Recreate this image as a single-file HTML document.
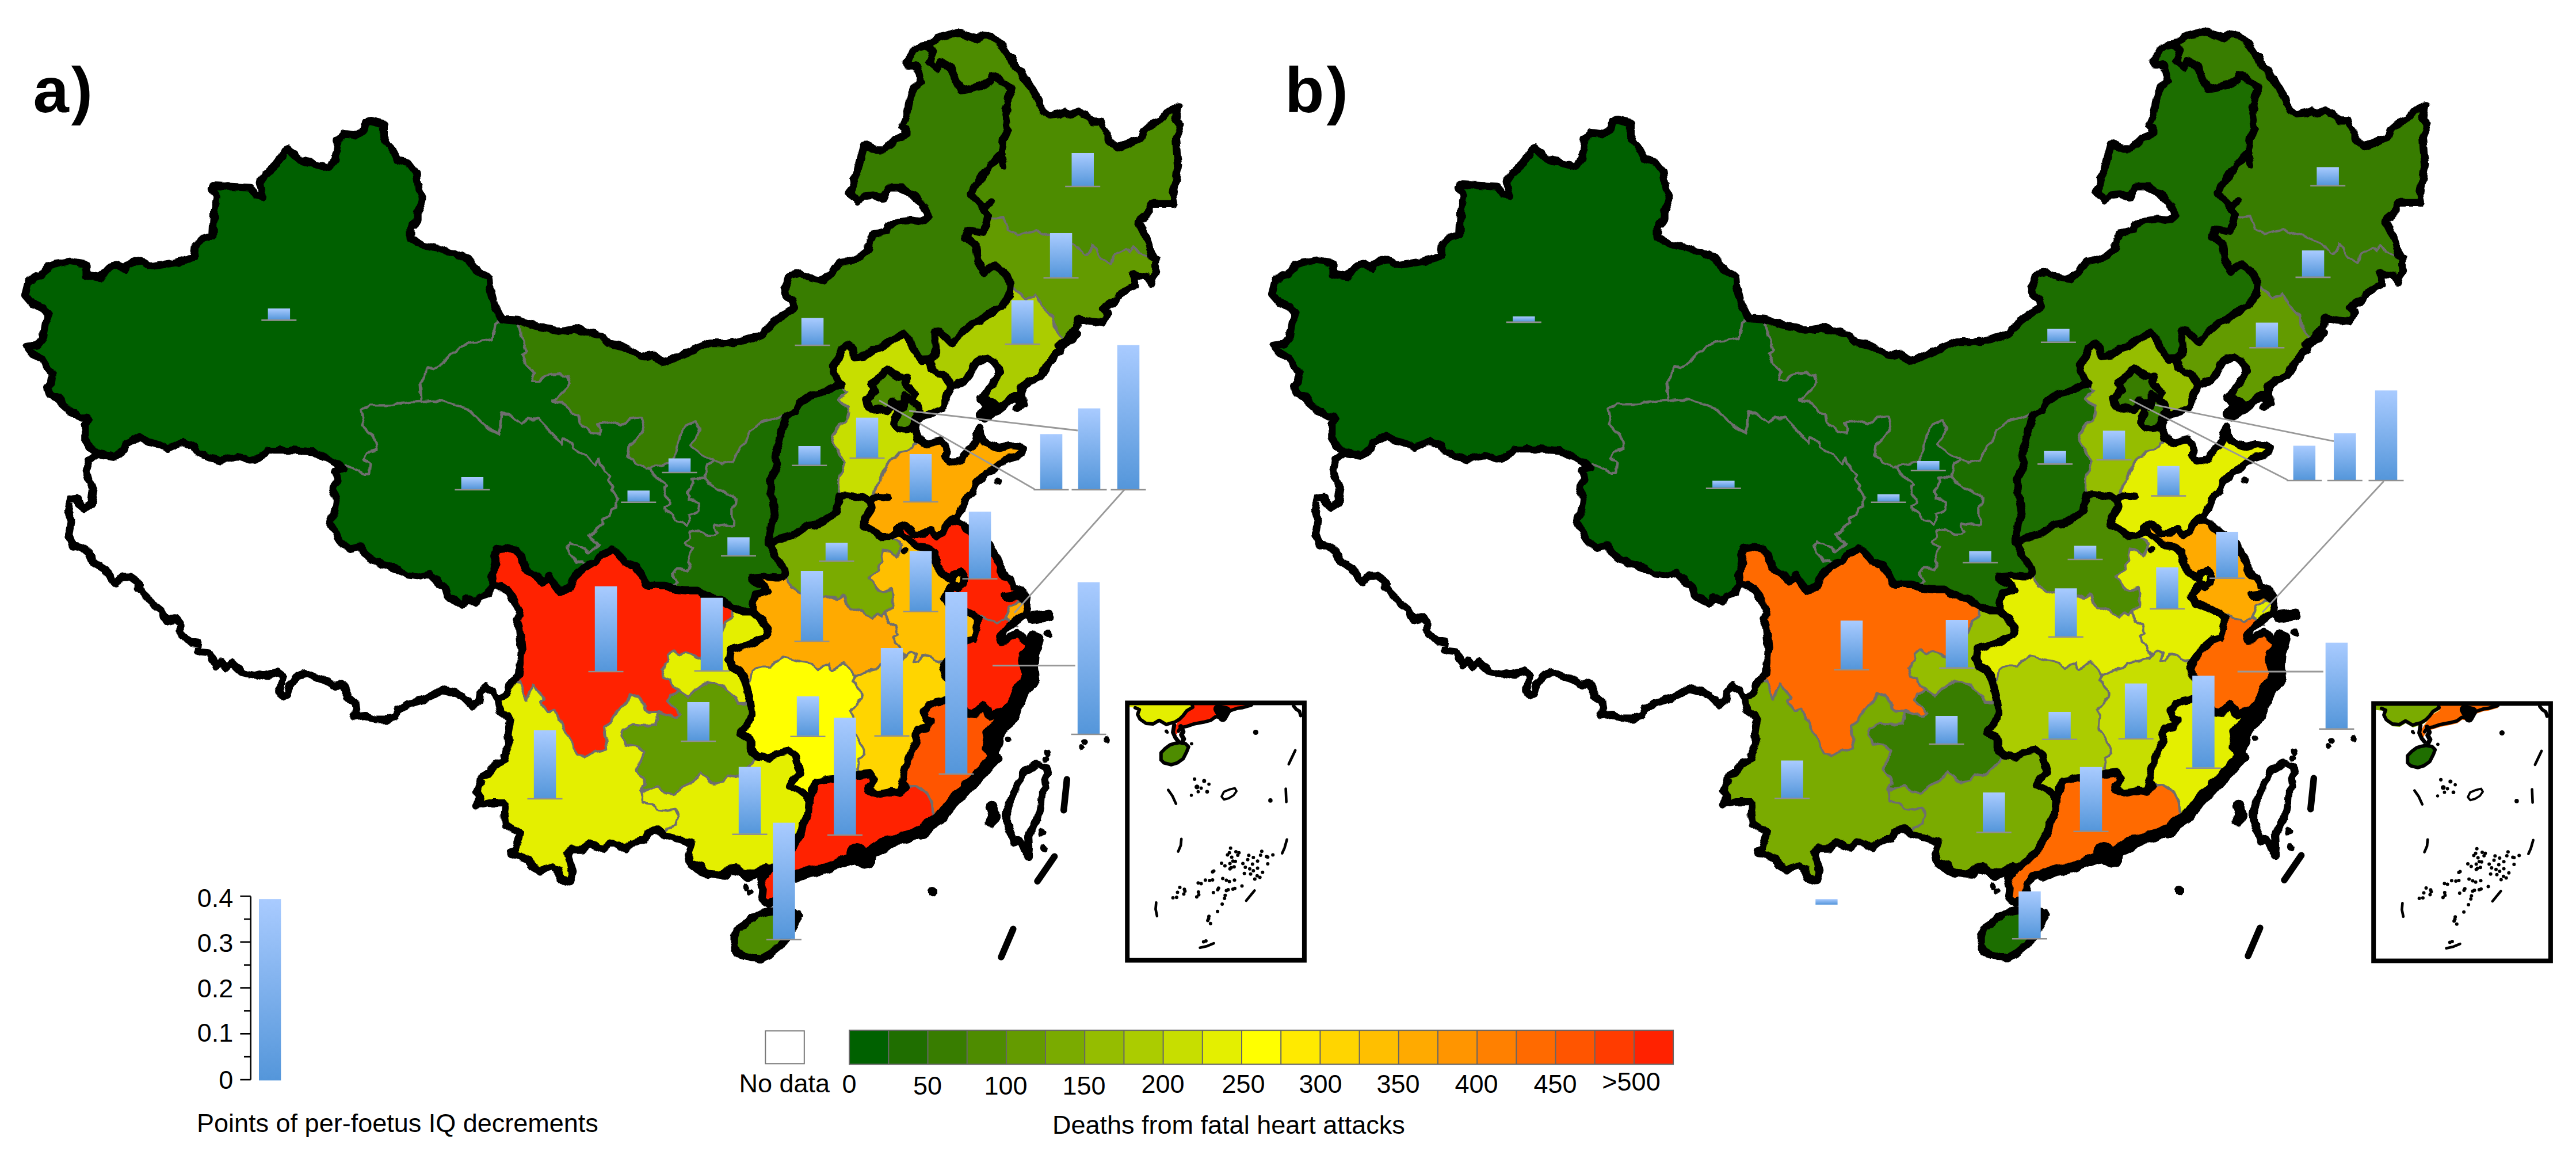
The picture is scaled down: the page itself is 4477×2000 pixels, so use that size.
<!DOCTYPE html>
<html lang="en"><head><meta charset="utf-8"><title>Figure: per-foetus IQ decrements and deaths from fatal heart attacks by province</title>
<style>html,body{margin:0;padding:0;background:#fff}body{width:4477px;height:2000px;overflow:hidden}svg{display:block}text{font-family:"Liberation Sans",Arial,Helvetica,sans-serif;fill:#000}.lb{font-size:45px}.t{font-weight:bold;font-size:112px}.gl{fill:none;stroke:#6E6E6E;stroke-width:4.2;stroke-linejoin:round;stroke-linecap:round}.tl{fill:none;stroke:#000;stroke-width:13.2;stroke-linejoin:round;stroke-linecap:round}.ld{fill:none;stroke:#999;stroke-width:2.8}.bl{stroke:#909090;stroke-width:2.6}.bar{fill:url(#bg)}</style></head><body>
<svg width="4477" height="2000" viewBox="0 0 4477 2000">
<defs><filter id="rough" filterUnits="userSpaceOnUse" x="0" y="0" width="2300" height="1720"><feTurbulence type="fractalNoise" baseFrequency="0.075" numOctaves="1" seed="7" result="n"/><feDisplacementMap in="SourceGraphic" in2="n" scale="9" xChannelSelector="R" yChannelSelector="G"/></filter><linearGradient id="bg" x1="0" y1="0" x2="0" y2="1"><stop offset="0" stop-color="#A9CBFF"/><stop offset="1" stop-color="#5496DA"/></linearGradient>
<path id="p-xj" d="M665 215 647 211 640 211 636 214 634 225 631 228 618 235 598 234 588 243 587 246 585 271 583 279 571 291 555 288 523 279 505 263 501 261 498 262 483 282 460 306 453 316 456 331 455 340 449 341 444 339 435 327 371 324 369 326 369 330 377 340 377 348 373 366 371 407 368 412 353 415 340 428 338 446 333 450 304 458 270 463 261 463 247 453 243 453 223 459 218 466 213 466 204 461 199 461 192 463 174 483 152 479 150 477 150 463 148 459 127 455 118 455 87 461 83 464 70 480 53 486 50 489 44 511 45 514 58 528 74 534 85 548 78 565 76 584 74 590 66 600 53 602 50 605 58 615 72 622 76 626 80 636 91 651 90 664 84 673 84 677 87 685 89 687 101 690 104 693 108 702 125 717 144 726 148 726 152 729 152 733 149 738 149 764 156 776 168 788 192 792 201 792 215 780 224 768 241 759 258 767 278 773 290 779 298 777 316 768 320 767 324 768 335 774 339 778 344 787 366 796 379 799 387 799 410 793 416 793 432 799 439 799 453 795 465 783 520 783 521 784 545 785 581 802 591 809 594 814 597 814 603 809 622 816 634 824 638 824 641 821 643 806 640 802 637 801 633 797 635 790 639 786 656 783 656 778 654 768 651 763 630 741 632 735 632 729 628 713 642 704 679 704 708 699 720 699 733 697 730 664 739 653 741 639 756 640 763 636 789 611 812 596 839 593 856 589 858 583 860 565 871 552 858 527 852 505 851 490 849 483 831 473 811 449 791 441 765 433 736 427 720 418 713 412 713 396 725 384 726 369 734 350 734 346 728 332 725 307 723 301 708 283 695 280 689 275 683 261 667 240 667 219Z"/>
<path id="p-qh" d="M629 713 633 729 633 735 631 741 648 758 654 766 656 772 657 783 639 787 636 790 634 797 640 801 644 806 642 821 640 824 634 825 622 817 603 810 597 815 594 815 591 818 585 820 587 836 579 847 579 852 585 867 585 875 581 892 573 907 584 924 591 940 608 953 613 953 625 950 628 952 639 966 651 975 691 988 708 999 730 1002 748 998 774 1021 778 1035 781 1038 791 1042 803 1050 805 1049 807 1043 810 1040 815 1041 823 1046 827 1046 836 1036 847 1033 849 1031 854 1021 857 1018 854 997 862 982 862 976 859 968 859 963 862 956 866 953 881 952 897 957 907 966 912 985 915 990 931 1000 942 1011 946 1010 952 1004 955 1004 962 1012 968 1022 974 1027 989 1021 993 1015 997 1003 1018 984 1017 980 1014 977 1002 978 996 968 990 962 985 951 992 943 1013 951 1023 959 1036 951 1039 947 1024 932 1030 928 1033 923 1046 910 1047 902 1060 896 1062 888 1070 880 1069 873 1074 868 1073 864 1063 851 1064 844 1056 833 1059 825 1042 807 1042 804 1040 801 1034 807 1019 793 999 782 996 778 996 775 985 766 979 764 978 768 976 770 957 753 952 746 935 729 916 729 907 737 888 723 873 718 871 726 869 748 866 754 853 748 840 738 814 712 801 706 781 700 758 697 746 697 720 700 708 700 679 705 642 705Z"/>
<path id="p-gs" d="M741 640 740 653 731 664 734 697 745 697 746 696 767 697 781 699 801 705 814 711 840 737 853 747 866 753 868 748 871 719 873 717 888 722 907 736 916 728 935 728 953 746 958 753 976 769 979 763 985 765 997 775 997 778 999 781 1019 792 1034 806 1040 800 1043 804 1043 807 1060 825 1057 833 1065 844 1064 851 1075 866 1075 868 1070 873 1071 880 1063 888 1061 896 1057 899 1048 902 1047 910 1034 923 1031 928 1025 932 1040 947 1036 952 1023 960 1013 952 992 944 988 948 986 953 1002 977 1014 976 1018 980 1019 983 1023 982 1035 976 1049 962 1062 955 1067 955 1088 978 1102 983 1108 989 1127 1016 1129 1017 1159 1017 1163 1020 1169 1021 1176 1012 1176 1009 1170 1003 1169 996 1176 989 1197 990 1199 988 1199 985 1195 977 1195 973 1199 961 1204 954 1198 951 1191 944 1199 935 1197 927 1198 925 1203 921 1211 921 1218 923 1227 930 1238 930 1246 926 1241 918 1243 913 1252 915 1259 913 1274 912 1276 905 1271 896 1271 886 1278 877 1279 870 1278 866 1272 861 1251 852 1231 840 1225 832 1223 833 1204 832 1203 833 1204 835 1203 846 1195 855 1198 861 1198 867 1211 872 1216 878 1215 889 1208 893 1197 896 1198 905 1194 914 1192 914 1183 906 1178 906 1173 904 1167 893 1159 890 1156 885 1156 882 1162 877 1163 870 1156 861 1153 850 1157 846 1154 839 1143 832 1131 820 1129 813 1125 814 1105 805 1091 793 1093 774 1111 759 1119 743 1119 738 1115 727 1095 729 1080 739 1076 739 1063 734 1042 737 1041 738 1046 745 1044 751 1039 755 1032 754 1009 739 1006 735 1003 722 998 722 993 720 988 710 979 701 966 698 963 695 990 666 990 663 986 654 975 651 954 652 947 654 938 663 928 664 925 662 927 647 914 634 907 618 914 611 914 608 901 567 900 558 880 556 872 553 861 565 859 583 856 590 839 594 812 597 789 612 763 637 756 641Z"/>
<path id="p-im" d="M1757 153 1731 134 1726 132 1724 137 1719 142 1708 149 1672 157 1668 154 1657 132 1654 122 1650 116 1639 111 1635 111 1627 119 1616 110 1616 104 1621 89 1613 80 1606 80 1594 83 1577 106 1577 112 1584 114 1591 114 1595 117 1599 127 1601 139 1600 142 1589 153 1585 161 1578 196 1569 216 1569 220 1574 224 1575 227 1574 235 1558 241 1538 261 1535 262 1523 261 1506 254 1502 255 1490 300 1484 312 1485 325 1479 332 1478 336 1490 348 1494 347 1500 341 1511 339 1519 339 1530 344 1535 344 1541 329 1544 326 1568 326 1592 343 1608 361 1614 374 1614 378 1612 380 1602 385 1591 385 1590 384 1565 385 1546 392 1538 403 1521 407 1512 419 1509 436 1500 444 1480 454 1459 458 1448 473 1431 487 1423 487 1406 484 1392 475 1374 478 1371 482 1364 502 1364 506 1366 513 1378 523 1380 529 1380 535 1346 559 1326 581 1304 590 1274 597 1233 597 1216 603 1154 630 1150 629 1136 618 1119 620 1085 603 1061 599 1044 584 1004 573 996 573 975 577 932 567 907 559 902 559 901 560 902 567 915 608 915 611 908 618 915 634 928 647 926 662 928 663 938 662 947 653 954 651 975 650 986 653 989 657 991 666 964 695 966 697 979 700 989 710 993 719 998 721 1003 721 1005 723 1007 735 1009 738 1034 754 1041 753 1045 747 1045 745 1040 738 1042 736 1063 733 1076 738 1080 738 1095 728 1115 726 1120 738 1120 743 1112 759 1094 774 1092 793 1105 804 1126 813 1131 811 1148 809 1164 804 1174 792 1177 773 1182 755 1190 740 1192 738 1207 733 1211 735 1215 744 1215 748 1210 761 1202 772 1202 775 1216 786 1237 797 1239 800 1245 801 1253 806 1258 806 1273 802 1275 800 1283 784 1296 767 1303 751 1325 732 1343 728 1359 722 1365 724 1381 716 1384 713 1390 699 1403 689 1434 680 1447 672 1458 669 1459 667 1449 648 1448 636 1457 623 1462 608 1469 602 1476 601 1483 607 1486 620 1501 619 1519 607 1534 603 1547 592 1569 581 1573 581 1582 591 1593 615 1599 624 1603 626 1616 625 1624 619 1627 615 1627 601 1624 590 1624 578 1625 577 1636 578 1653 596 1655 596 1677 573 1692 560 1705 556 1718 545 1737 536 1754 514 1757 495 1748 476 1732 463 1727 463 1714 472 1710 473 1707 470 1700 453 1696 426 1694 423 1682 416 1679 413 1679 409 1682 402 1685 400 1708 403 1713 391 1716 379 1716 373 1708 360 1688 338 1688 335 1709 303 1740 266 1743 240 1751 227 1748 195 1750 187 1751 173 1758 156Z"/>
<path id="p-hlj" d="M1614 78 1614 80 1622 89 1617 104 1617 110 1627 118 1635 110 1639 110 1650 115 1653 118 1658 132 1670 155 1675 156 1708 148 1719 141 1723 137 1726 131 1731 133 1758 153 1759 156 1752 173 1751 187 1749 195 1752 227 1744 240 1741 266 1710 303 1689 335 1689 338 1709 360 1717 373 1717 377 1722 379 1730 379 1743 376 1752 399 1766 408 1770 408 1788 402 1803 400 1813 408 1826 407 1872 426 1887 442 1893 439 1897 429 1901 426 1905 431 1913 447 1928 457 1931 456 1938 442 1953 433 1963 436 1970 429 1973 431 1979 441 1995 445 2002 445 2002 441 1996 420 1979 388 1979 384 1992 373 1998 357 2001 354 2035 354 2040 352 2039 335 2044 304 2048 288 2043 240 2051 222 2049 216 2043 208 2046 195 2045 190 2038 191 2028 197 2018 209 2005 214 1999 218 1987 229 1984 240 1982 242 1942 257 1926 243 1925 232 1916 221 1913 212 1900 211 1887 200 1878 195 1874 194 1862 200 1850 194 1837 199 1822 200 1810 188 1807 177 1800 164 1783 141 1775 126 1764 116 1758 101 1750 94 1738 75 1727 65 1714 62 1708 62 1701 67 1697 67 1684 64 1666 57 1661 57 1644 63 1631 65Z"/>
<path id="p-jl" d="M1680 409 1680 413 1694 422 1697 426 1700 449 1708 470 1712 472 1727 462 1732 462 1749 476 1758 495 1757 500 1760 500 1766 503 1783 519 1801 512 1816 539 1831 551 1833 566 1844 584 1852 593 1854 593 1866 581 1866 577 1870 571 1872 560 1875 555 1883 555 1892 558 1905 560 1917 560 1925 547 1924 544 1919 539 1919 537 1924 532 1936 525 1953 506 1970 498 1973 495 1971 484 1972 477 1990 479 2000 489 2004 484 2009 470 2008 450 2003 446 1995 446 1979 442 1976 439 1972 431 1970 430 1963 437 1953 434 1937 444 1932 456 1928 458 1912 447 1901 427 1898 429 1894 439 1887 443 1874 428 1826 408 1813 409 1803 401 1788 403 1770 409 1766 409 1751 399 1743 377 1730 380 1722 380 1717 378 1711 400 1708 404 1685 401 1683 402Z"/>
<path id="p-ln" d="M1801 513 1783 520 1763 502 1757 501 1754 516 1737 537 1718 546 1705 557 1692 561 1677 574 1655 597 1653 597 1636 579 1625 578 1625 590 1628 601 1628 615 1624 620 1616 626 1618 632 1618 639 1624 644 1641 651 1655 672 1669 665 1676 663 1685 652 1694 632 1697 629 1716 621 1724 625 1735 638 1737 643 1737 648 1727 666 1717 678 1708 693 1710 699 1717 705 1715 710 1705 719 1707 723 1712 727 1723 719 1734 715 1745 703 1761 690 1766 688 1775 688 1777 683 1777 672 1787 664 1805 657 1808 654 1811 647 1824 628 1842 608 1845 600 1852 594 1843 584 1833 568 1830 551 1815 539Z"/>
<path id="p-hb" d="M1573 582 1569 582 1547 593 1534 604 1519 608 1504 619 1496 621 1486 621 1484 618 1482 607 1476 602 1471 602 1463 608 1458 623 1449 636 1450 648 1459 666 1463 669 1467 677 1473 681 1472 684 1467 689 1459 694 1459 697 1464 702 1472 706 1475 709 1478 717 1475 727 1471 734 1460 739 1454 746 1448 759 1447 770 1450 777 1458 784 1468 802 1468 806 1460 828 1458 852 1460 855 1461 861 1478 861 1501 865 1512 869 1515 868 1519 864 1518 863 1519 853 1526 842 1533 822 1545 801 1555 795 1563 785 1576 782 1585 778 1587 772 1597 766 1592 754 1591 747 1588 742 1586 742 1582 746 1572 748 1563 746 1554 739 1555 727 1560 720 1559 711 1561 706 1557 703 1552 701 1550 707 1542 715 1531 711 1517 713 1506 703 1505 697 1506 694 1515 686 1519 679 1517 674 1514 671 1514 668 1523 659 1531 655 1539 643 1541 642 1546 643 1560 654 1566 656 1573 656 1575 658 1574 667 1584 675 1590 684 1589 689 1584 694 1594 703 1599 710 1600 713 1598 716 1602 720 1603 723 1608 720 1612 720 1628 715 1639 708 1642 704 1642 694 1645 685 1652 677 1654 672 1641 652 1624 645 1617 639 1617 632 1615 626 1603 627 1598 624 1592 615 1581 591Z"/>
<path id="p-bj" d="M1574 658 1562 656 1555 652 1546 644 1543 643 1539 644 1535 652 1531 656 1523 660 1515 668 1515 671 1518 674 1520 679 1516 686 1507 694 1506 696 1507 703 1517 712 1531 710 1542 714 1549 707 1550 702 1552 700 1557 702 1560 705 1563 705 1568 703 1575 692 1584 693 1588 689 1589 684 1583 675 1573 667Z"/>
<path id="p-tj" d="M1575 693 1569 703 1562 706 1560 711 1561 720 1556 727 1555 739 1563 745 1572 747 1582 745 1587 741 1594 728 1594 719 1599 713 1593 703 1583 694Z"/>
<path id="p-sx" d="M1460 668 1456 671 1447 673 1434 681 1403 690 1391 699 1385 713 1381 717 1365 725 1348 790 1348 795 1352 804 1352 808 1348 819 1340 833 1340 850 1344 866 1348 892 1342 908 1338 928 1338 941 1339 942 1343 942 1361 933 1377 930 1393 921 1403 913 1414 912 1428 907 1447 895 1454 888 1457 868 1460 861 1460 858 1457 852 1459 828 1467 806 1467 802 1457 784 1449 777 1446 770 1447 759 1453 746 1460 738 1470 734 1474 727 1477 717 1474 709 1464 703 1458 697 1458 694 1467 688 1471 684 1472 681 1466 677 1464 672Z"/>
<path id="p-sa" d="M1364 725 1359 723 1343 729 1325 733 1304 751 1297 767 1284 784 1276 800 1273 803 1258 807 1253 807 1245 802 1239 801 1230 807 1227 817 1227 829 1226 830 1230 838 1251 851 1272 860 1279 866 1280 869 1279 877 1272 886 1272 896 1277 905 1276 910 1272 914 1259 914 1252 916 1243 914 1242 918 1247 926 1238 931 1227 931 1218 924 1211 922 1203 922 1199 925 1198 927 1200 935 1192 944 1198 950 1205 954 1200 961 1196 973 1196 977 1200 985 1200 988 1197 991 1176 990 1170 996 1171 1003 1177 1009 1177 1012 1171 1019 1170 1022 1174 1024 1189 1026 1214 1026 1229 1036 1253 1041 1273 1056 1276 1056 1294 1063 1304 1063 1308 1062 1309 1047 1312 1035 1315 1032 1330 1029 1332 1027 1332 1024 1328 1019 1313 1012 1309 1007 1314 1003 1321 1002 1356 1004 1362 1000 1363 998 1362 988 1352 974 1339 950 1337 941 1337 928 1341 908 1347 892 1343 866 1339 850 1339 833 1347 819 1351 808 1351 804 1347 795 1347 790Z"/>
<path id="p-nx" d="M1209 734 1191 740 1183 755 1178 773 1175 792 1170 799 1162 806 1148 810 1130 813 1132 820 1143 831 1154 838 1158 844 1154 852 1157 861 1164 870 1163 877 1157 882 1158 888 1167 892 1173 903 1185 906 1192 913 1194 913 1197 905 1196 896 1198 894 1213 890 1215 887 1214 876 1211 873 1198 868 1197 861 1194 857 1194 855 1202 846 1203 843 1202 833 1204 831 1220 831 1221 832 1225 831 1226 817 1229 807 1238 801 1237 798 1216 787 1201 775 1201 772 1209 761 1214 748 1214 744Z"/>
<path id="p-sd" d="M1776 781 1771 776 1760 774 1753 774 1741 778 1734 778 1724 773 1715 771 1709 766 1706 756 1702 752 1698 757 1698 762 1694 774 1674 792 1672 798 1668 802 1656 805 1653 804 1644 795 1646 785 1643 776 1637 767 1633 766 1618 771 1611 771 1604 769 1598 765 1595 769 1588 772 1585 779 1576 783 1563 786 1555 796 1546 801 1543 808 1536 818 1528 840 1519 856 1520 864 1513 870 1515 875 1515 884 1503 907 1502 913 1509 916 1531 931 1536 933 1550 932 1559 925 1559 918 1569 913 1573 913 1580 917 1585 922 1586 925 1590 928 1599 928 1612 923 1618 923 1625 931 1628 931 1634 928 1638 924 1644 913 1652 904 1658 905 1660 904 1672 885 1677 868 1690 855 1695 842 1706 831 1711 823 1714 820 1721 818 1728 814 1745 800 1771 791 1774 788Z"/>
<path id="p-hn" d="M1339 943 1339 947 1353 974 1363 988 1364 991 1363 1000 1368 1004 1374 1019 1386 1027 1410 1035 1430 1039 1448 1037 1455 1040 1459 1040 1467 1036 1470 1041 1472 1049 1478 1058 1489 1059 1499 1062 1505 1070 1513 1073 1516 1073 1524 1067 1533 1071 1540 1060 1551 1054 1552 1038 1550 1026 1546 1026 1537 1030 1534 1030 1521 1021 1517 1011 1512 1004 1512 1001 1524 991 1526 983 1534 976 1533 971 1534 959 1536 957 1548 958 1553 962 1556 967 1558 967 1565 954 1566 946 1553 938 1550 933 1546 934 1533 933 1519 923 1501 913 1502 907 1514 884 1514 875 1511 869 1478 862 1460 862 1455 888 1447 896 1421 911 1403 914 1393 922 1377 931 1361 934 1343 943Z"/>
<path id="p-js" d="M1560 918 1560 925 1566 926 1576 936 1598 950 1612 952 1624 959 1627 962 1629 971 1627 980 1638 996 1645 1002 1652 1005 1660 995 1668 993 1671 994 1676 1001 1675 1014 1667 1021 1664 1021 1661 1018 1658 1018 1653 1023 1643 1038 1644 1042 1651 1050 1670 1057 1689 1066 1696 1071 1705 1070 1714 1076 1727 1078 1732 1083 1734 1083 1740 1077 1748 1074 1752 1064 1753 1056 1755 1053 1769 1046 1784 1045 1783 1036 1776 1026 1763 1021 1759 1016 1757 1008 1745 1001 1741 997 1739 984 1722 950 1704 933 1681 921 1672 910 1666 909 1657 905 1652 905 1645 913 1639 924 1634 929 1628 932 1625 932 1618 924 1612 924 1599 929 1590 929 1585 925 1584 922 1580 918 1573 914 1569 914Z"/>
<path id="p-ah" d="M1559 926 1553 930 1551 934 1553 937 1564 943 1567 946 1566 954 1560 966 1556 968 1550 960 1536 958 1534 963 1535 976 1527 983 1525 991 1513 1001 1513 1004 1518 1011 1522 1021 1534 1029 1537 1029 1546 1025 1551 1026 1553 1038 1553 1052 1550 1056 1540 1061 1537 1066 1540 1069 1543 1079 1554 1086 1559 1092 1561 1102 1553 1108 1560 1121 1572 1138 1575 1139 1583 1133 1590 1135 1592 1137 1590 1150 1592 1151 1596 1150 1599 1147 1605 1137 1615 1139 1624 1148 1632 1150 1635 1149 1644 1150 1664 1126 1681 1112 1692 1109 1698 1090 1698 1084 1700 1077 1698 1072 1670 1058 1651 1051 1642 1040 1645 1033 1658 1017 1661 1017 1664 1020 1667 1020 1674 1014 1675 1001 1671 995 1668 994 1660 996 1652 1006 1648 1005 1637 996 1627 982 1626 977 1628 971 1626 962 1612 953 1598 951 1576 937 1566 927Z"/>
<path id="p-hub" d="M1268 1148 1271 1156 1275 1160 1285 1165 1289 1169 1297 1186 1299 1187 1303 1182 1306 1168 1308 1166 1321 1159 1340 1158 1350 1148 1360 1141 1374 1144 1391 1150 1412 1153 1422 1162 1439 1154 1447 1164 1457 1159 1465 1151 1468 1151 1477 1164 1488 1175 1505 1166 1521 1163 1532 1153 1551 1150 1562 1145 1569 1144 1573 1140 1559 1121 1552 1108 1560 1102 1558 1092 1554 1087 1542 1079 1539 1069 1537 1067 1533 1072 1524 1068 1516 1074 1513 1074 1505 1071 1499 1063 1489 1060 1478 1059 1472 1051 1467 1037 1459 1041 1455 1041 1448 1038 1430 1040 1410 1036 1390 1030 1373 1019 1367 1004 1364 1001 1362 1001 1356 1005 1321 1003 1314 1004 1310 1007 1313 1011 1328 1018 1333 1024 1333 1027 1330 1030 1315 1033 1313 1035 1310 1047 1309 1062 1332 1086 1335 1091 1335 1094 1331 1106 1328 1109 1313 1116 1293 1122 1290 1124 1272 1128 1270 1130Z"/>
<path id="p-sc" d="M863 956 860 963 860 968 863 976 863 982 855 997 857 1015 858 1017 870 1019 883 1026 887 1030 891 1041 904 1066 903 1070 899 1075 899 1079 903 1089 904 1107 908 1135 904 1157 903 1172 895 1181 905 1186 911 1206 915 1212 918 1208 923 1194 926 1191 946 1212 946 1214 940 1221 952 1236 961 1233 965 1235 973 1250 981 1271 990 1280 995 1295 1004 1312 1016 1315 1036 1306 1053 1302 1054 1300 1052 1291 1050 1263 1061 1254 1072 1235 1091 1220 1094 1210 1097 1207 1108 1210 1120 1223 1123 1233 1131 1237 1143 1237 1153 1241 1170 1245 1176 1245 1181 1241 1161 1220 1164 1208 1166 1206 1178 1203 1179 1200 1169 1192 1164 1180 1157 1178 1153 1175 1150 1163 1162 1151 1161 1137 1168 1131 1171 1130 1182 1136 1193 1135 1206 1139 1218 1145 1244 1118 1256 1095 1260 1081 1273 1072 1272 1067 1273 1057 1270 1054 1251 1041 1229 1037 1214 1027 1179 1026 1163 1021 1159 1018 1129 1018 1123 1013 1107 989 1102 984 1088 979 1067 956 1062 956 1049 963 1035 977 1019 984 998 1003 994 1015 989 1022 974 1028 967 1022 955 1005 952 1005 946 1011 942 1012 931 1001 915 991 912 988 906 966 897 958 881 953 866 954Z"/>
<path id="p-cq" d="M1309 1063 1294 1064 1274 1057 1273 1058 1274 1072 1261 1081 1257 1095 1245 1118 1218 1146 1193 1136 1182 1137 1171 1131 1168 1132 1162 1137 1163 1151 1151 1163 1154 1175 1164 1179 1167 1183 1170 1192 1176 1196 1180 1201 1186 1203 1195 1210 1216 1193 1229 1185 1235 1185 1245 1187 1256 1192 1267 1203 1279 1211 1283 1223 1294 1224 1299 1220 1301 1220 1303 1215 1298 1196 1298 1188 1288 1169 1285 1166 1275 1161 1270 1156 1267 1148 1267 1142 1269 1130 1272 1127 1290 1123 1293 1121 1313 1115 1330 1106 1334 1091 1324 1078Z"/>
<path id="p-gz" d="M1303 1220 1299 1221 1294 1225 1285 1225 1282 1223 1278 1211 1267 1204 1256 1193 1245 1188 1229 1186 1206 1201 1195 1211 1182 1202 1165 1208 1162 1220 1181 1239 1182 1241 1178 1245 1170 1246 1144 1239 1144 1249 1141 1257 1137 1260 1124 1262 1099 1260 1084 1267 1081 1275 1081 1279 1087 1292 1096 1295 1109 1297 1120 1307 1119 1312 1108 1336 1108 1338 1122 1361 1122 1364 1118 1369 1118 1373 1129 1369 1144 1367 1158 1378 1172 1380 1186 1366 1204 1359 1217 1343 1241 1361 1257 1358 1265 1348 1277 1350 1292 1340 1316 1315 1304 1302 1303 1285 1292 1279 1287 1274 1287 1272 1299 1260 1307 1240 1305 1225Z"/>
<path id="p-yn" d="M887 1186 883 1203 874 1212 867 1215 867 1223 870 1236 887 1249 887 1258 884 1272 884 1282 886 1291 877 1310 878 1321 875 1324 860 1330 854 1341 851 1344 838 1349 836 1362 829 1374 835 1384 831 1393 831 1397 838 1398 844 1396 876 1396 878 1398 877 1421 879 1432 888 1439 900 1445 904 1449 897 1475 891 1482 894 1485 919 1492 921 1494 924 1505 927 1508 936 1512 941 1512 958 1507 963 1507 968 1509 971 1512 974 1526 978 1529 990 1532 996 1515 987 1488 987 1484 993 1476 1009 1476 1024 1466 1030 1466 1048 1475 1061 1465 1073 1466 1087 1475 1101 1464 1121 1459 1125 1449 1138 1440 1143 1440 1152 1449 1162 1438 1174 1432 1178 1420 1174 1408 1162 1410 1143 1408 1138 1404 1132 1396 1122 1395 1116 1391 1113 1376 1117 1372 1117 1369 1120 1366 1121 1361 1107 1338 1107 1336 1118 1312 1119 1307 1109 1298 1088 1294 1080 1279 1082 1268 1099 1259 1124 1261 1139 1258 1143 1249 1143 1238 1131 1238 1123 1234 1119 1223 1108 1211 1097 1208 1095 1210 1092 1220 1073 1235 1062 1254 1051 1263 1053 1291 1055 1300 1054 1302 1047 1305 1036 1307 1016 1316 1010 1315 1003 1312 994 1295 989 1280 980 1271 972 1250 964 1235 961 1234 952 1237 939 1221 945 1214 945 1212 933 1200 927 1192 924 1194 919 1208 915 1213 910 1206 904 1186 899 1185 895 1182Z"/>
<path id="p-gx" d="M1407 1395 1406 1387 1398 1379 1373 1365 1376 1356 1389 1344 1390 1340 1387 1333 1383 1314 1371 1305 1353 1309 1337 1317 1325 1317 1317 1315 1288 1344 1277 1351 1265 1349 1261 1355 1255 1360 1240 1362 1217 1344 1204 1360 1186 1367 1172 1381 1158 1379 1144 1368 1129 1370 1120 1374 1117 1373 1114 1376 1117 1391 1122 1394 1132 1395 1141 1406 1159 1409 1169 1407 1175 1408 1179 1420 1175 1432 1172 1435 1162 1439 1153 1450 1155 1452 1168 1456 1198 1463 1201 1466 1201 1471 1197 1482 1198 1496 1201 1499 1217 1506 1229 1517 1245 1521 1250 1521 1276 1507 1290 1516 1311 1517 1330 1507 1336 1511 1340 1510 1358 1497 1374 1480 1381 1465 1391 1449 1395 1434 1404 1414Z"/>
<path id="p-hun" d="M1360 1142 1350 1149 1340 1159 1321 1160 1307 1168 1304 1182 1299 1188 1299 1196 1304 1215 1303 1219 1306 1225 1308 1240 1300 1260 1288 1272 1288 1274 1292 1278 1304 1285 1305 1302 1319 1315 1337 1316 1353 1308 1367 1304 1371 1304 1380 1310 1384 1314 1391 1342 1377 1356 1374 1365 1392 1374 1398 1378 1405 1386 1407 1386 1410 1382 1415 1363 1419 1358 1436 1354 1470 1352 1488 1348 1494 1345 1491 1338 1491 1320 1501 1311 1501 1308 1492 1285 1487 1276 1480 1268 1483 1247 1478 1236 1489 1224 1496 1214 1497 1209 1493 1198 1483 1186 1486 1175 1476 1164 1468 1152 1465 1152 1457 1160 1447 1165 1439 1155 1422 1163 1412 1154 1391 1151 1374 1145Z"/>
<path id="p-jx" d="M1644 1151 1642 1150 1632 1151 1624 1149 1615 1140 1605 1138 1600 1147 1596 1151 1592 1152 1589 1150 1591 1137 1583 1134 1569 1145 1565 1145 1547 1152 1532 1154 1521 1164 1505 1167 1487 1176 1484 1186 1494 1198 1498 1212 1490 1224 1479 1236 1484 1247 1481 1268 1488 1276 1493 1285 1502 1308 1502 1311 1492 1320 1492 1338 1494 1344 1497 1346 1504 1344 1512 1344 1515 1347 1517 1360 1511 1370 1512 1373 1525 1379 1532 1379 1544 1376 1565 1377 1568 1368 1567 1361 1570 1352 1573 1332 1581 1312 1593 1290 1590 1275 1597 1266 1611 1263 1616 1256 1616 1254 1608 1247 1605 1238 1607 1234 1615 1225 1629 1219 1639 1217 1651 1217 1657 1218 1663 1221 1667 1221 1667 1213 1665 1206 1649 1184 1640 1166Z"/>
<path id="p-zj" d="M1702 1071 1699 1072 1701 1077 1699 1084 1699 1090 1693 1109 1691 1111 1681 1113 1658 1133 1645 1150 1641 1166 1650 1184 1666 1206 1668 1213 1668 1222 1681 1238 1687 1240 1693 1240 1702 1234 1708 1228 1711 1228 1717 1235 1720 1243 1724 1244 1748 1231 1751 1232 1754 1229 1762 1211 1765 1199 1770 1192 1781 1182 1783 1172 1775 1150 1775 1144 1777 1137 1786 1129 1787 1120 1773 1103 1768 1101 1764 1102 1748 1114 1744 1115 1739 1112 1738 1108 1740 1104 1757 1085 1748 1075 1740 1078 1734 1084 1732 1084 1727 1079 1714 1077 1707 1072Z"/>
<path id="p-fj" d="M1744 1235 1729 1243 1721 1245 1717 1240 1714 1232 1711 1229 1708 1229 1695 1240 1687 1241 1681 1239 1667 1222 1663 1222 1657 1219 1651 1218 1639 1218 1623 1222 1615 1226 1608 1234 1606 1238 1609 1247 1617 1254 1617 1256 1611 1264 1597 1267 1591 1275 1594 1290 1576 1326 1568 1364 1569 1367 1574 1365 1592 1365 1614 1380 1622 1404 1623 1412 1622 1424 1623 1426 1627 1425 1638 1414 1655 1393 1675 1379 1689 1367 1701 1351 1731 1321 1733 1317 1732 1315 1714 1300 1716 1285 1714 1272 1740 1254 1748 1247 1750 1240Z"/>
<path id="p-gd" d="M1613 1380 1592 1366 1571 1367 1568 1369 1568 1373 1565 1378 1544 1377 1532 1380 1525 1380 1510 1372 1516 1360 1514 1347 1512 1345 1504 1345 1497 1347 1494 1346 1488 1349 1470 1353 1436 1355 1419 1359 1416 1363 1411 1382 1407 1387 1408 1395 1404 1417 1396 1434 1392 1449 1382 1465 1375 1480 1358 1498 1340 1511 1338 1511 1323 1529 1327 1546 1325 1563 1336 1571 1350 1564 1353 1559 1357 1536 1366 1523 1383 1520 1403 1511 1428 1514 1442 1506 1464 1500 1483 1487 1495 1496 1501 1498 1514 1484 1533 1477 1558 1462 1584 1456 1605 1438 1620 1431 1623 1427 1621 1424 1622 1412 1620 1399Z"/>
<path id="p-hi" d="M1379 1587 1367 1584 1338 1584 1325 1587 1305 1596 1294 1607 1280 1617 1277 1626 1277 1645 1280 1653 1289 1659 1310 1666 1322 1666 1334 1660 1350 1648 1362 1636 1380 1609 1384 1598 1384 1595Z"/>
<path id="p-sh" d="M1785 1046 1769 1047 1755 1054 1749 1075 1757 1084 1783 1066 1787 1056Z"/>
<path id="p-tib" d="M155 800 151 817 151 823 154 834 163 849 163 858 160 875 147 885 141 882 137 878 134 867 124 867 122 869 118 884 119 891 124 900 124 910 121 925 121 932 126 946 131 949 142 951 155 961 161 975 181 987 186 992 199 1012 204 1011 213 1002 227 1002 238 1010 242 1015 242 1024 257 1038 268 1052 282 1063 287 1074 290 1077 302 1074 306 1075 313 1082 314 1098 330 1114 343 1116 346 1119 345 1132 363 1135 371 1145 377 1156 383 1152 386 1152 392 1158 395 1158 401 1153 403 1153 422 1169 443 1174 449 1172 464 1173 483 1167 488 1170 492 1176 490 1191 486 1200 489 1207 493 1210 500 1206 503 1192 514 1177 518 1173 530 1170 535 1170 563 1181 583 1192 591 1188 594 1188 602 1197 603 1210 618 1221 620 1228 618 1244 623 1245 637 1243 655 1250 674 1250 686 1246 690 1236 706 1225 752 1209 769 1198 783 1200 793 1204 804 1210 821 1225 832 1220 835 1203 842 1194 846 1194 854 1199 859 1204 863 1211 867 1214 874 1211 882 1203 886 1186 889 1183 894 1181 902 1172 907 1131 903 1107 902 1089 898 1079 898 1075 902 1070 903 1066 890 1041 886 1030 883 1027 870 1020 858 1018 847 1034 836 1037 827 1047 823 1047 815 1042 810 1041 806 1049 803 1051 791 1043 781 1039 777 1035 773 1021 750 1000 746 999 730 1003 708 1000 691 989 651 976 639 967 625 951 608 954 590 940 583 924 572 907 580 892 584 875 584 867 578 852 578 847 586 836 584 820 591 817 593 813 591 810 581 803 545 786 537 785 465 784 453 796 439 800 432 800 416 794 410 794 387 800 379 800 366 797 344 788 335 775 324 769 320 768 316 769 298 778 290 780 278 774 258 768 241 760 224 769 216 780 201 793 192 793 168 789 164 794Z"/>
<path id="p-tw" d="M1804 1328 1800 1329 1779 1343 1762 1378 1751 1407 1751 1432 1757 1445 1761 1459 1764 1462 1771 1461 1774 1464 1779 1474 1783 1478 1787 1476 1788 1472 1787 1453 1793 1440 1802 1427 1807 1410 1810 1379 1817 1368 1816 1353 1820 1346 1819 1335 1817 1333Z"/>
<g id="grey" class="gl">
<path d="M1717.4 378.3 1726.1 380.4 1743.5 376.1 1752.2 400 1767.4 408.7 1782.6 404.3 1802.2 400 1813 408.7 1823.9 406.5 1865.2 423.9 1873.9 428.3 1887 443.5 1893.5 439.1 1900 423.9 1913 447.8 1930.4 458.7 1937 443.5 1954.3 432.6 1963 437 1969.6 428.3 1978.3 441.3 1997.8 445.7 2004.3 447.8"/>
<path d="M1756.5 497.8 1769.6 506.5 1782.6 519.6 1795.7 515.2 1800 510.9 1808.7 528.3 1817.4 541.3 1830.4 550 1832.6 567.4 1843.5 582.6 1852.2 593.5"/>
<path d="M867.4 558.7 860.9 563 856.5 589.1 839.1 592.6 813 595.7 787 613 765.2 634.8 754.3 641.3 741.3 637.8 739.1 654.3 730.4 665.2 732.6 697.8"/>
<path d="M732.6 697.8 713 698.7 678.3 704.3 643.5 704.3 628.3 713 632.6 732.6 630.4 741.3 647.8 758.7 654.3 767.4 656.5 782.6 637 787 632.6 797.8 643.5 804.3 641.3 823.9 632.6 823.9 621.7 817.4 602.2 808.7 597.8 815.2"/>
<path d="M732.6 697.8 752.2 695.7 778.3 698.7 795.7 704.3 813 710.9 826.1 723.9 837 734.8 854.3 747.8 867.4 754.3 871.7 717.4 887 721.7 906.5 737 917.4 728.3 934.8 728.3 952.2 745.7 963 758.7 978.3 771.7 978.3 760.9 995.7 773.9 997.4 780 1008.3 786.5 1019.1 793 1034.3 807.2 1039.8 797.4 1043 808.3 1051.7 817 1060.4 825.7 1056.1 832.2 1063.7 843 1062.6 849.6 1069.1 858.3 1074.6 867 1069.1 873.5 1070.2 882.2 1062.6 886.5 1060.4 897.4 1047.4 901.7 1047.4 910.4 1036.5 919.1 1030 927.8 1023.5 932.2 1030 936.5 1034.3 943 1040.9 947.4 1032.2 953.9 1023.5 960.4 1012.6 951.7 1001.7 947.4 990.9 943 985.4 951.7 990.9 962.6 997.4 969.1 1001.7 977.8 1012.6 975.7 1018 980 1022 985"/>
<path d="M900 560.9 906.5 584.8 915.2 610.9 906.5 617.4 915.2 634.8 928.3 647.8 923.9 663 937 663 945.7 654.3 956.5 650.9 971.7 650 987 654.3 991.3 665.2 978.3 680.4 960.9 695.7 978.3 700 989.1 710.9 993.5 719.6 1004.3 721.7 1006.5 737 1019.6 745.7 1032.6 754.3 1041.3 754.3 1045.7 745.7 1039.1 737 1060.9 732.6 1078.3 739.1 1095.7 728.3 1113 726.1 1115.2 726.1 1119.6 741.3 1110.9 758.7 1093.5 773.9 1091.3 793.5 1104.3 804.3 1123.9 813 1147.8 808.7 1165.2 804.3 1173.9 793.5 1178.3 771.7 1182.6 754.3 1191.3 739.1 1208.7 732.6 1215.2 745.7 1208.7 760.9 1200 773.9 1217.4 787 1237 797.8 1254.3 806.5 1273.9 802.2 1282.6 784.8 1295.7 767.4 1304.3 750 1323.9 732.6 1343.5 728.3 1360.9 721.7"/>
<path d="M1128 811 1132.2 821.3 1140.9 830 1153.9 838.7 1158.3 845.2 1152.8 849.6 1156.1 860.4 1162.6 869.1 1162.6 875.7 1156.1 882.2 1158.3 888.7 1167 893 1173.5 903.9 1184.3 906.1 1193 914.8 1197.4 906.1 1196.3 895.2 1206.1 893 1214.8 888.7 1214.8 875.7 1208.3 871.3 1197.4 867 1197.4 860.4 1194.1 856.1 1201.7 847.4 1203.9 838.7 1201.7 832.2 1210.4 831.1 1225.7 832.2"/>
<path d="M1238 797 1240.9 800.7 1230 806.1 1226.7 814.8 1225.7 823.5 1225.7 832.2"/>
<path d="M1225.7 832.2 1230 838.7 1240.9 845.2 1251.7 851.7 1260.4 856.1 1271.3 860.4 1278.9 867 1277.8 877.8 1271.3 886.5 1271.3 895.2 1275.7 903.9 1274.6 912.6 1262.6 912.6 1251.7 914.8 1243 912.6 1240.9 917 1247.4 925.7 1238.7 930 1225.7 930 1214.8 922.4 1203.9 921.3 1197.4 925.7 1199.6 934.3 1190.9 943 1197.4 949.6 1205 953.9 1199.6 960.4 1197.4 969.1 1195.2 975.7 1199.6 986.5 1197.4 990.9 1186.5 988.7 1175.7 988.7 1169.1 997.4 1171.3 1003.9 1176.7 1010.4 1173.5 1017 1167 1019.1"/>
<path d="M1463 669.1 1466.7 677.8 1474.3 681.1 1465.7 688.7 1457 695.2 1463.5 701.7 1474.3 708.3 1476.5 717 1474.3 727.8 1470 734.3 1459.1 738.7 1452.6 747.4 1448.3 758.3 1446.1 769.1 1450.4 777.8 1457 784.3 1463.5 795.2 1467.8 803.9 1463.5 817 1459.1 830 1459 835 1457 850 1461 860"/>
<path d="M1601 766 1588.5 771.3 1585.2 777.8 1576.5 782.2 1563.5 785.4 1554.8 795.2 1546.1 799.6 1541.7 808.3 1535.2 819.1 1530.9 830 1527 840 1520 852 1515 868"/>
<path d="M1689.1 1067.4 1704.3 1069.6 1713 1076.1 1726.1 1078.3 1732.6 1084.8 1739.1 1078.3 1747.8 1073.9 1752.2 1065.2 1754.3 1054.3 1769.6 1045.7 1790 1046"/>
<path d="M1747.8 1073.9 1752.2 1080.4 1758.7 1082.6 1768 1088"/>
<path d="M1552.2 937 1567.4 945.7 1565.2 954.3 1556.5 969.6 1550 958.7 1534.8 956.5 1532.6 967.4 1534.8 976.1 1526.1 982.6 1525 991.3 1510.9 1002.2 1517.4 1010.9 1521.7 1021.7 1534.8 1030.4 1550 1023.9 1552.2 1039.1 1552.2 1054.3 1539.1 1060.9 1532.6 1071.7"/>
<path d="M1362 997 1367 1004 1374 1019.6 1387 1028 1410 1035 1430.4 1039 1445.7 1037 1456.5 1041.3 1467.4 1034.8 1471.7 1050 1478.3 1058.7 1487 1058.7 1500 1063 1504.3 1069.6 1515.2 1073.9 1523.9 1067.4 1532.6 1071.7"/>
<path d="M1532.6 1071.7 1537 1063 1543.5 1080.4 1556.5 1089.1 1560.9 1102.2 1552.2 1106.5 1558.7 1119.6 1565.2 1128.3 1573.9 1141.3"/>
<path d="M1573.9 1141.3 1552.2 1150 1530.4 1154.3 1521.7 1163 1504.3 1167.4 1487 1176.1"/>
<path d="M1573.9 1141.3 1568.3 1145.7 1583.5 1132.6 1592.2 1137 1587.8 1152.2 1596.5 1150 1605.2 1137 1613.9 1139.1 1622.6 1147.8 1631.3 1150 1642.2 1148.9 1648 1150"/>
<path d="M1487 1176.1 1476.1 1163 1467.4 1150 1456.5 1158.7 1445.7 1165.2 1439.1 1154.3 1421.7 1163 1413 1154.3 1391.3 1150 1378.3 1145.7 1360.9 1141.3 1347.8 1150 1339.1 1158.7 1321.7 1158.7 1306.5 1167.4 1300 1193.5 1302 1200"/>
<path d="M1487 1176.1 1482.6 1184.8 1493.5 1197.8 1497.8 1210.9 1489.1 1223.9 1478.3 1237 1482.6 1245.7 1480.4 1267.4 1487 1276.1 1495.7 1293.5 1502.2 1310.9 1491.3 1319.6 1491.3 1337 1495.7 1345.7"/>
<path d="M1269.6 1054.3 1273.9 1071.7 1260.9 1080.4 1256.5 1093.5 1243.5 1119.6 1217.4 1145.7 1204.3 1139.1 1191.3 1134.8 1182.6 1137 1169.6 1130.4 1160.9 1137 1163 1150 1150 1163 1154.3 1176.1 1165.2 1180.4 1169.6 1193.5 1182.6 1202.2"/>
<path d="M1182.6 1202.2 1195.7 1210.9 1204.3 1202.2 1217.4 1193.5 1230.4 1184.8 1243.5 1187 1256.5 1193.5 1265.2 1202.2 1278.3 1210.9 1282.6 1223.9 1295.7 1223.9 1302.2 1215.2 1304 1213"/>
<path d="M1182.6 1202.2 1165.2 1206.5 1160.9 1219.6 1173.9 1232.6 1182.6 1241.3 1173.9 1245.7 1152.2 1241.3 1143.5 1237"/>
<path d="M889 1183 904.3 1184.8 910.9 1206.5 915.2 1215.2 926.1 1189.1 934.8 1202.2 945.7 1213 939.1 1219.6 952.2 1237 963 1232.6 971.7 1250 980.4 1269.6 989.1 1280.4 995.7 1297.8 1004.3 1313 1017.4 1315.2 1034.8 1306.5 1054.3 1302.2 1052.2 1284.8 1050 1263 1060.9 1254.3 1073.9 1232.6 1091.3 1219.6 1095.7 1206.5 1108.7 1210.9 1120 1223.9 1121.7 1232.6 1130 1237 1143.5 1237"/>
<path d="M1143.5 1237 1143.5 1250 1139.1 1258.7 1121.7 1260.9 1100 1258.7 1082.6 1267.4 1080.4 1278.3 1087 1293.5 1108.7 1297.8 1119.6 1306.5 1113 1323.9 1106.5 1337 1115.2 1350 1121.7 1363 1113 1376.1"/>
<path d="M1113 1376.1 1117.4 1393.5 1132.6 1395.7 1141.3 1406.5 1160.9 1408.7 1173.9 1406.5 1178.3 1419.6 1173.9 1432.6 1160.9 1439.1 1154.3 1447.8"/>
<path d="M1113 1376.1 1128.3 1369.6 1143.5 1367.4 1156.5 1378.3 1173.9 1380.4 1184.8 1367.4 1204.3 1358.7 1217.4 1343.5 1226.1 1350 1239.1 1360.9 1256.5 1358.7 1265.2 1347.8 1278.3 1350 1295.7 1337 1317.4 1315.2"/>
<path d="M1573.9 1365.2 1591.3 1365.2 1613 1380.4 1619.6 1397.8 1621.7 1413 1619 1436"/>
</g><g id="thick" class="tl">
<path d="M43.5 513 50 487 71.7 478.3 84.8 460.9 121.7 454.3 150 458.7 150 478.3 173.9 482.6 191.3 463 202.2 460 217.4 467.4 221.7 458.7 245.7 452.2 260.9 463 304.3 456.5 337 447.8 339.1 428.3 352.2 415.2 369.6 410.9 371.7 369.6 377.4 341.3 367.4 328.3 369.6 322.6 434.8 326.1 443.5 339.1 456.5 341.3 452.2 317.4 460.9 304.3 478.3 287 500 258.7 521.7 278.3 545.7 284.8 571.7 291.3 582.6 278.3 587 243.5 597.8 232.6 617.4 234.8 632.6 226.1 635.7 212.2 643.5 209.6 667.4 215.2 667.4 239.1 682.6 260.9 691.3 278.3 708.7 282.6 723.9 302.2 728.3 330.4 734.8 347.8 726.1 369.6 726.1 382.6 713 395.7 713 413 734.8 426.1 765.2 432.6 791.3 441.3 813 450 830.4 471.7 850 482.6 852.2 502.2 858.7 528.3 871.7 554.3 900 556.5 934.8 567.4 973.9 576.1 1000 571.7 1043.5 582.6 1058.7 597.8 1082.6 602.2 1113 617.4 1120 619.6 1134.8 617.4 1152.2 630.4 1182.6 617.4 1213 604.3 1234.8 595.7 1273.9 595.7 1304.3 589.1 1326.1 580.4 1343.5 560.9 1360.9 547.8 1380.4 534.8 1378.3 523.9 1365.2 513 1363 502.2 1365.2 500 1371.7 478.3 1391.3 473.9 1404.3 482.6 1430.4 487 1447.8 471.7 1458.7 456.5 1478.3 454.3 1495.7 445.7 1508.7 434.8 1510.9 419.6 1519.6 406.5 1539.1 402.2 1543.5 393.5 1560.9 384.8 1582.6 382.6 1600 384.8 1615.2 378.3 1606.5 360.9 1591.3 343.5 1567.4 326.1 1543.5 326.1 1534.8 345.7 1517.4 339.1 1500 341.3 1491.3 350 1476.1 334.8 1484.8 323.9 1482.6 313 1489.1 300 1502.2 252.2 1523.9 260.9 1537 260.9 1556.5 241.3 1573.9 234.8 1573.9 223.9 1567.4 219.6 1576.1 200 1582.6 165.2 1589.1 152.2 1600 141.3 1597.8 126.1 1593.5 115.2 1576.1 113 1576.1 106.5 1593.5 82.6 1613 78.3 1630.4 65.2 1647.8 60.9 1663 55.7 1682.6 63 1700 67.4 1708.7 60.9 1726.1 64.3 1739.1 76.1 1752.2 95.7 1758.7 102.2 1765.2 117.4 1773.9 123.9 1784.8 143.5 1795.7 156.5 1806.5 176.1 1810.9 189.1 1821.7 200 1839.1 197.8 1850 193.5 1860.9 200 1873.9 193.5 1887 200 1900 210.9 1913 210.9 1917.4 221.7 1926.1 232.6 1926.1 243.5 1941.3 256.5 1958.7 250 1982.6 241.3 1987 228.3 2002.2 215.2 2017.4 208.7 2026.1 197.8 2047.8 184.8 2043.5 208.7 2052.2 219.6 2043.5 241.3 2045.7 269.6 2047.8 287 2043.5 313 2039.1 339.1 2041.3 354.3 2000 354.3 1993.5 371.7 1978.3 384.8 1995.7 419.6 2004.3 447.8 2008.7 450 2008.7 471.7 2000 493.5 1991.3 480.4 1969.6 476.1 1973.9 495.7 1952.2 506.5 1934.8 526.1 1917.4 537 1926.1 545.7 1917.4 560.9 1895.7 558.7 1873.9 554.3 1869.6 571.7 1854.3 589.1 1839.1 600 1872.2 580 1867.8 584.3 1859.1 593 1846.1 603.9 1833 617 1822.2 632.2 1813.5 645.2 1807 656.1 1789.6 662.6 1776.5 671.3 1776.5 688.7 1767.8 708.3 1780.9 701.7 1776.5 686.5 1763.5 688.7 1752.6 697.4 1741.7 706.1 1735.2 714.8 1724.3 719.1 1711.3 727.8 1702.6 719.1 1711.3 712.6 1720 703.9 1711.3 701.7 1707 693 1711.3 686.5 1717.8 675.7 1724.3 669.1 1730.9 658.3 1737.4 647.4 1735.2 638.7 1726.5 627.8 1715.7 621.3 1704.8 625.7 1696.1 630 1689.6 640.9 1685.2 651.7 1676.5 662.6 1665.7 667 1654.8 673.5 1646.1 684.3 1641.7 697.4 1641.7 706.1 1628.7 714.8 1615.7 719.1 1607 721.3 1593.9 730 1589.6 740.9 1591.7 751.7 1596.1 762.6 1604.8 769.1 1615.7 771.3 1626.5 767 1635.2 764.8 1641.7 773.5 1646.1 784.3 1643.9 795.2 1652.6 803.9 1661.3 803.9 1670 799.6 1674.3 790.9 1683 782.2 1691.7 775.7 1696.1 767 1698.3 753.9 1702.6 743 1704.8 751.7 1707 760.4 1711.3 769.1 1724.3 773.5 1735.2 777.8 1746.1 775.7 1754.8 773.5 1772.2 775.7 1776.5 780 1774.3 788.7 1767.8 793 1759.1 795.2 1746.1 799.6 1735.2 808.3 1724.3 817 1713.5 821.3 1707 830 1695.7 841.3 1691.3 854.3 1678.3 867.4 1671.7 884.8 1660.9 902.2 1656.5 906.5 1671.7 908.7 1680.4 919.6 1704.3 932.6 1721.7 950 1730.4 967.4 1739.1 982.6 1741.3 997.8 1756.5 1006.5 1760.9 1019.6 1773.9 1023.9 1782.6 1034.8 1784.8 1045.7 1787 1056.5 1782.6 1067.4 1779.1 1069.6 1766.1 1078.3 1753 1089.1 1744.3 1100 1737.8 1106.5 1740 1115.2 1748.7 1113 1757.4 1106.5 1766.1 1100 1774.8 1104.3 1781.3 1113 1787.8 1119.6 1785.7 1130.4 1777 1137 1774.8 1147.8 1779.1 1158.7 1783.5 1171.7 1781.3 1182.6 1772.6 1189.1 1766.1 1197.8 1761.7 1210.9 1757.4 1221.7 1753 1232.6 1748.7 1245.7 1735.7 1256.5 1724.8 1265.2 1713.9 1271.7 1716.1 1282.6 1713.9 1300 1734.8 1317.4 1717.4 1334.8 1704.3 1347.8 1691.3 1365.2 1669.6 1382.6 1652.2 1395.7 1639.1 1413 1621.7 1430.4 1604.3 1439.1 1582.6 1456.5 1556.5 1463 1534.8 1476.1 1513 1484.8 1500 1500 1482.6 1487 1465.2 1500 1441.3 1506.5 1426.1 1515.2 1404.3 1510.9 1382.6 1519.6 1365.2 1523.9 1356.5 1537 1352.2 1563 1334.8 1571.7 1323.9 1563 1326.1 1545.7 1321.7 1528.3 1339.1 1510.9 1330.4 1506.5 1313 1517.4 1291.3 1517.4 1276.1 1506.5 1260.9 1515.2 1247.8 1521.7 1228.3 1517.4 1217.4 1506.5 1197.8 1497.8 1195.7 1484.8 1202.2 1465.2 1178.3 1458.7 1154.3 1452.2 1141.3 1439.1 1126.1 1447.8 1121.7 1458.7 1100 1465.2 1087 1476.1 1073.9 1467.4 1060.9 1465.2 1047.8 1476.1 1026.1 1465.2 1010.9 1476.1 993.5 1476.1 987 1484.8 991.3 1497.8 995.7 1515.2 991.3 1532.6 973.9 1528.3 969.6 1510.9 960.9 1506.5 937 1513 923.9 1506.5 919.6 1493.5 904.3 1489.1 887 1482.6 895.7 1476.1 900 1463 904.3 1447.8 891.3 1441.3 878.3 1432.6 876.1 1415.2 878.3 1395.7 847.8 1395.7 826.1 1400 834.8 1384.8 828.3 1373.9 834.8 1363 837 1347.8 852.2 1343.5 858.7 1330.4 878.3 1321.7 876.1 1310.9 884.8 1293.5 882.6 1276.1 887 1250 882.6 1245.7 869.6 1237 865.2 1215.2 856.5 1202.2 843.5 1193.5 834.8 1204.3 832.6 1219.6 819.6 1226.1 804.3 1210.9 787 1202.2 769.6 1197.8 752.2 1208.7 730.4 1217.4 708.7 1223.9 691.3 1234.8 687 1245.7 673.9 1250 652.2 1250 634.8 1243.5 615.2 1245.7 619.6 1232.6 617.4 1219.6 602.2 1210.9 602.2 1197.8 593.5 1187 582.6 1193.5 565.2 1182.6 547.8 1176.1 532.6 1169.6 517.4 1173.9 504.3 1191.3 500 1206.5 491.3 1210.9 484.8 1200 489.1 1193.5 491.3 1173.9 482.6 1167.4 460.9 1173.9 452.2 1171.7 443.5 1173.9 421.7 1169.6 402.2 1152.2 393.5 1160.9 384.8 1150 376.1 1158.7 371.7 1147.8 363 1134.8 343.5 1132.6 345.7 1117.4 330.4 1115.2 313 1097.8 313 1082.6 304.3 1073.9 289.1 1078.3 280.4 1060.9 265.2 1050 256.5 1039.1 241.3 1023.9 241.3 1013 226.1 1002.2 213 1002.2 200 1015.2 182.6 989.1 160.9 976.1 154.3 960.9 143.5 952.2 126.1 947.8 119.6 930.4 121.7 915.2 123.9 902.2 117.4 887 121.7 867.4 134.8 865.2 137 878.3 145.7 884.8 158.7 876.1 163 850 154.3 834.8 150 819.6 154.3 800 169.6 789.1 156.5 778.3 147.8 763 147.8 739.1 154.3 728.3 143.5 726.1 123.9 717.4 108.7 704.3 102.2 691.3 87 687 82.6 673.9 89.1 665.2 91.3 652.2 80.4 637 73.9 623.9 56.5 615.2 45.7 602.2 65.2 600 73.9 589.1 78.3 563 84.8 547.8 73.9 534.8 56.5 528.3 43.5 513 43.5 513"/>
<path d="M1613 80.4 1621.7 89.1 1615.2 108.7 1628.3 119.6 1634.8 108.7 1652.2 117.4 1658.7 134.8 1669.6 156.5 1682.6 154.3 1708.7 147.8 1721.7 139.1 1726.1 130.4 1743.5 143.5 1758.7 154.3 1752.2 169.6 1747.8 200 1752.2 226.1 1743.5 241.3 1741.3 265.2 1732.6 273.9 1708.7 304.3 1687 337 1708.7 360.9 1717.4 373.9 1713 391.3 1708.7 404.3 1682.6 400 1678.3 413 1695.7 423.9 1700 452.2 1708.7 473.9 1730.4 460.9 1747.8 476.1 1756.5 493.5 1754.3 515.2 1739.1 534.8 1717.4 545.7 1704.3 556.5 1691.3 560.9 1671.7 578.3 1654.3 597.8 1634.8 578.3 1623.9 576.1 1624.3 586.5 1626.5 601.7 1626.5 617 1615.7 624.6"/>
<path d="M1615.7 624.6 1600.4 625.7 1593.9 617 1587.4 603.9 1580.9 590.9 1572.2 580 1559.1 586.5 1546.1 593 1533 603.9 1517.8 608.3 1502.6 619.1 1485.2 621.3 1483 608.3 1474.3 599.6 1463.5 606.1 1457 623.5 1448.3 636.5 1450.4 649.6 1457 662.6 1463 669.1 1447.8 671.7 1434.8 680.4 1404.3 689.1 1391.3 697.8 1382.6 715.2 1365.2 723.9 1347.4 793 1351.7 806.1 1347.4 819.1 1338.7 834.3 1338.7 847.4 1343 867 1347.4 893 1340.9 910.4 1336.5 932.2 1336.5 945.2"/>
<path d="M1615.7 624.6 1617.8 640.9 1628.7 647.4 1641.7 651.7 1648.3 662.6 1654.8 673.5"/>
<path d="M1336.5 945.2 1345.2 960.4 1353.9 975.7 1362.6 988.7 1363.7 997.4 1358.3 1003.9 1347.4 1003.9 1327.8 1001.7 1308.3 1003.9 1306.1 1008.3 1330.4 1019.6 1334.8 1028.3 1313 1032.6 1308.7 1050 1308.7 1063"/>
<path d="M1336.5 945.2 1360.4 934.3 1377.8 930 1393 921.3 1403.9 912.6 1423.5 910.4 1413 913 1428.3 906.5 1443.5 897.8 1454.3 889.1 1456.5 871.7 1458.7 860.9 1471.7 860.9 1487 863 1502.2 866.3 1513 869.6"/>
<path d="M1513 869.6 1521.7 863 1532.6 864.1 1543.5 865.2"/>
<path d="M1513 869.6 1515.2 882.6 1506.5 897.8 1500 913 1508.7 917.4 1523.9 926.1 1532.6 932.6 1547.8 932.6 1558.7 926.1"/>
<path d="M1558.7 926.1 1558.7 917.4 1571.7 913 1582.6 919.6 1587 928.3 1600 928.3 1617.4 921.7 1626.1 932.6 1637 926.1 1645.7 910.9 1654.3 902.2"/>
<path d="M1558.7 926.1 1565.2 926.1 1573.9 934.8 1587 943.5 1595.7 950 1610.9 952.2 1626.1 960.9 1628.3 971.7 1626.1 980.4 1632.6 989.1 1639.1 997.8 1652.2 1006.5 1658.7 995.7 1669.6 993.5 1676.1 1002.2 1673.9 1015.2 1665.2 1021.7 1658.7 1015.2 1652.2 1023.9 1645.7 1032.6 1641.3 1039.1 1650 1050 1671.7 1058.7 1689.1 1067.4 1700 1075 1697 1095 1692 1110 1680 1113 1660 1130 1645 1150 1640 1165 1650 1185 1665 1205 1670 1225 1681 1239 1692.2 1241.3 1700.9 1234.8 1709.6 1226.1 1716.1 1234.8 1720.4 1245.7 1731.3 1241.3 1742.2 1234.8 1748.7 1230.4"/>
<path d="M1670 1225 1655 1218 1642 1217 1627 1219.6 1614 1226 1605 1237 1609.6 1250 1618 1254 1612 1263 1596.5 1267 1590 1276 1594 1289 1588 1300 1582.6 1308.7 1573.9 1330.4 1569.6 1352.2 1565.2 1369.6 1573.9 1365.2"/>
<path d="M1573.9 1365.2 1565.2 1378.3 1547.8 1376.1 1526.1 1380.4 1508.7 1371.7 1517.4 1358.7 1513 1343.5 1495.7 1345.7"/>
<path d="M1495.7 1345.7 1469.6 1352.2 1439.1 1354.3 1417.4 1358.7 1413 1371.7 1406.5 1393.5"/>
<path d="M1406.5 1393.5 1404.3 1415.2 1395.7 1432.6 1391.3 1450 1382.6 1463 1373.9 1480.4 1356.5 1497.8 1339.1 1510.9"/>
<path d="M1308.7 1063 1321.7 1076.1 1334.8 1091.3 1330.4 1106.5 1313 1115.2 1287 1123.9 1269.6 1128.3 1267.4 1145.7 1271.7 1158.7 1287 1167.4 1295.7 1184.8 1300 1202.2 1304.3 1219.6 1306.5 1241.3 1300 1258.7 1284.8 1273.9 1304.3 1284.8 1304.3 1302.2 1317.4 1315.2 1334.8 1317.4 1352.2 1308.7 1369.6 1304.3 1382.6 1313 1387 1330.4 1391.3 1343.5 1378.3 1354.3 1371.7 1365.2 1387 1371.7 1400 1380.4 1406.5 1393.5"/>
<path d="M856.5 1017.4 854.3 997.8 863 980.4 858.7 965.2 863 954.3 878.3 952.2 895.7 956.5 906.5 967.4 913 989.1 930.4 1000 943.5 1013 954.3 1002.2 971.7 1028.3 991.3 1019.6 997.8 1002.2 1017.4 984.8 1034.8 976.1 1047.8 963 1065.2 954.3 1078.3 967.4 1087 978.3 1104.3 984.8 1117.4 1002.2 1126.1 1017.4 1156.5 1017.4 1169.6 1023.9 1191.3 1026.1 1213 1026.1 1230.4 1037 1252.2 1041.3 1269.6 1054.3 1291.3 1063 1308.7 1063"/>
<path d="M865.2 1215.2 873.9 1210.9 882.6 1202.2 887 1184.8 902.2 1173.9 904.3 1154.3 906.5 1132.6 904.3 1110.9 902.2 1089.1 897.8 1076.1 904.3 1067.4 893.5 1045.7 884.8 1028.3 869.6 1019.6 856.5 1017.4"/>
<path d="M169.6 789.1 200 793.5 213 782.6 221.7 769.6 241.3 758.7 256.5 767.4 278.3 773.9 291.3 780.4 319.6 767.4 337 776.1 343.5 787 365.2 795.7 382.6 800 413 793.5 434.8 800 452.2 795.7 465.2 782.6 508.7 782.6 543.5 784.8 560.9 793.5 582.6 804.3 597.8 815.2 582.6 819.6 587 834.8 578.3 847.8 578.3 850 584.8 869.6 580.4 893.5 571.7 906.5 582.6 923.9 591.3 941.3 608.7 954.3 626.1 950 634.8 963 652.2 976.1 673.9 982.6 691.3 989.1 708.7 1000 730.4 1002.2 747.8 997.8 760.9 1010.9 773.9 1021.7 778.3 1037 791.3 1043.5 804.3 1052.2 808.7 1039.1 826.1 1047.8 834.8 1037 847.8 1032.6 856.5 1017.4"/>
<path d="M1541.7 640.9 1552.6 649.6 1563.5 656.1 1576.5 656.1 1572.2 667 1580.9 673.5 1589.6 684.3 1587.4 690.9 1576.5 693 1572.2 701.7 1570 708.3 1561.3 706.1 1550.4 697.4 1550.4 706.1 1541.7 714.8 1528.7 710.4 1515.7 712.6 1507 703.9 1504.8 695.2 1513.5 688.7 1520 677.8 1513.5 669.1 1522.2 660.4 1533 653.9 1537.4 645.2 1541.7 640.9"/>
<path d="M1572.2 686.5 1580.9 693 1593.9 703.9 1600.4 712.6 1593.9 719.1 1591.7 730 1587.4 736.5 1583 745.2 1572.2 747.4 1561.3 745.2 1553.7 738.7 1554.8 727.8 1561.3 719.1 1559.1 710.4 1563.5 701.7 1572.2 697.4 1572.2 686.5"/>
<path d="M1342.4 1583 1330.4 1585.2 1317.4 1589.6 1304.3 1596.1 1293.5 1607 1280.4 1615.7 1276.1 1628.7 1276.1 1641.7 1280.4 1654.8 1293.5 1661.3 1308.7 1665.7 1323.9 1665.7 1339.1 1657 1352.2 1646.1 1363 1635.2 1371.7 1622.2 1380.4 1609.1 1384.8 1596.1 1380.4 1587.4 1363 1583 1342.4 1583"/>
<path d="M1801.7 1326.7 1819.1 1334.3 1821.3 1345.2 1815.9 1353.9 1818 1367 1810.4 1380 1809.3 1397.4 1806.1 1414.8 1801.7 1427.8 1793 1440.9 1786.5 1453.9 1787.6 1471.3 1786.5 1488.7 1780 1475.7 1771.3 1460.4 1762.6 1464.8 1756.1 1445.2 1749.6 1430 1749.6 1410.4 1753.9 1397.4 1760.4 1382.2 1767 1367 1773.5 1353.9 1780 1340.9 1793 1334.3 1801.7 1326.7"/>
<path d="M1739 269.6 1743.5 289"/>
<path d="M1708.7 360.9 1722 352"/>
<path stroke-width="23" d="M1724.6 1280 1725.7 1301.7 1721.3 1323.5 1703.9 1345.2 1688.7 1359.3 1675.7 1374.6 1660.4 1385.4 1650.7 1399.6 1637.6 1418 1614.8 1432.2 1603.9 1447.4"/>
<path stroke-width="19" d="M1382.6 1524.3 1406.5 1515.7 1430.4 1511.3 1452.2 1502.6 1476.1 1493.9 1493.5 1489.6 1510.9 1480.9 1532.6 1465.7 1558.7 1459.1 1582.6 1451.5 1604.3 1441.7"/>
<path stroke-width="36" d="M1489.1 1483 1504.3 1491.7"/>
<path stroke-width="15" d="M1200 1500.4 1213 1511.3 1232.6 1518.9 1258.7 1522.2 1269.6 1512.4 1287 1515.7 1300 1524.3 1317.4 1517.8 1330.4 1511.3 1342.4 1509.1"/>
<path stroke-width="30" d="M1798.7 1110.9 1792.2 1137 1790 1158.7 1792.2 1180.4"/>
<path stroke-width="24" d="M1792.2 1180.4 1779.1 1197.8 1770.4 1215.2 1763.9 1232.6 1755.2 1245.7"/>
<path stroke-width="30" d="M1755.2 1245.7 1740 1258.7 1731.3 1271.7 1729.1 1289.1 1724.8 1300"/>
<path stroke-width="20" d="M1794.3 1073.9 1822.6 1069.6"/>
<path stroke-width="14" d="M1820.4 1100 1822.6 1102.2"/>
<path stroke-width="16" d="M1747.8 1037 1767.4 1034.8 1784.8 1041.3"/>
<path stroke-width="18" d="M1707 693 1724.3 701.7 1733 710.4 1720 719.1 1704.8 721.3"/>
<path stroke-width="14" d="M1763.5 693 1778.7 701.7 1767.8 707.2"/>
<path stroke-width="20" d="M1723.5 1401.7 1730 1419.1 1721.3 1427.8"/>
</g><g id="ndash" class="tl" style="stroke-width:11.5">
<path d="M1854.3 1354.3 1848.7 1407.8"/>
<path d="M1832.6 1488.3 1803 1531.3"/>
<path d="M1760.9 1614.3 1740 1663"/>
</g><g id="dots">
<circle cx="1620.9" cy="1549.1" r="9.1"/>
<circle cx="1820.2" cy="1308.3" r="6.1"/>
<circle cx="1817" cy="1318" r="5.4"/>
<circle cx="1810.4" cy="1446.3" r="6.1"/>
<circle cx="1814.8" cy="1473.5" r="7"/>
<circle cx="1752.8" cy="1283.3" r="5.4"/>
<circle cx="1885.4" cy="1288.7" r="5.4"/>
<circle cx="1878.9" cy="1298.5" r="5.4"/>
<circle cx="1922.4" cy="1285.4" r="5.4"/>
<circle cx="1297.8" cy="1541.7" r="6.1"/>
<circle cx="1304.3" cy="1550.4" r="5.4"/>
<circle cx="1389.1" cy="1588.5" r="6.1"/>
<circle cx="1734.8" cy="836" r="5.5"/>
<circle cx="1683" cy="400" r="7"/>
<circle cx="1571.7" cy="956.5" r="6"/>
</g>
<g id="inset-lines" fill="none" stroke="#000" stroke-linecap="round" stroke-linejoin="round">
<path stroke-width="6" d="M2069.9 1216.3 2073 1228.8 2062.6 1235 2056.3 1243.4 2050.1 1249.6 2041.7 1254.8 2033.4 1256.9 2027.1 1259 2014.6 1251.7 2004.2 1257.9 1991.7 1256.9 1981.3 1249.6 1977.1 1241.3 1980.2 1232.9 1972.9 1229.8"/>
<path stroke-width="6" d="M2175.1 1225 2158.5 1229.8 2150.1 1230.8 2137.6 1235 2127.2 1247.5 2112.6 1245.4 2104.3 1251.7 2091.8 1254.8 2075.1 1257.9 2062.6 1262.1 2052.1 1264.2 2048 1270.5"/>
<path stroke-width="7" d="M2040.7 1260 2038.6 1272.5 2042.8 1281.9 2048 1288.2"/>
<path stroke-width="8" d="M2052.1 1262.1 2056.3 1271.5 2053.2 1276.7 2057.4 1284 2054.2 1290.3"/>
<path stroke-width="6" d="M2248.1 1226.7 2252.3 1231.9 2258.5 1236.1 2260.6 1243.4"/>
<path stroke-width="16" d="M2116.8 1231.9 2131.4 1235 2125.1 1246.5Z"/>
<path stroke-width="3.8" d="M2123 1384.1 2127.2 1375.7 2137.6 1371.6 2146 1369.5 2149.1 1374.7 2143.9 1382 2135.5 1387.2 2127.2 1389.3 2123 1384.1Z"/>
<path stroke-width="4.6" d="M2251.2 1303.8 2239.8 1327.8"/>
<path stroke-width="4.6" d="M2234.6 1370.5 2235.6 1393.4"/>
<path stroke-width="4.6" d="M2030.3 1372.6 2037.6 1383 2043.8 1396.6"/>
<path stroke-width="4.6" d="M2053.2 1457.7 2052.1 1469.2 2047.6 1479.6"/>
<path stroke-width="4.6" d="M2236.6 1458.8 2232.5 1473.4 2228.3 1482.7"/>
<path stroke-width="4.6" d="M2180.4 1547.4 2165.8 1565.1"/>
<path stroke-width="4.6" d="M2009.4 1568.2 2008.4 1579.7 2010.9 1591.8"/>
<path stroke-width="4.6" d="M2085.5 1646.8 2098 1643.9 2109.5 1639.1"/>
</g><g id="inset-dots">
<circle cx="2027.1" cy="1270.5" r="3.1"/>
<circle cx="2028.8" cy="1272.5" r="2.5"/>
<circle cx="2070.9" cy="1292.3" r="2.9"/>
<circle cx="2182.4" cy="1272.5" r="4.6"/>
<circle cx="2076.1" cy="1353.8" r="3.1"/>
<circle cx="2092.8" cy="1357" r="3.5"/>
<circle cx="2101.1" cy="1362.6" r="2.9"/>
<circle cx="2080.3" cy="1367.4" r="4.2"/>
<circle cx="2087.6" cy="1369.5" r="2.9"/>
<circle cx="2082.4" cy="1375.7" r="2.9"/>
<circle cx="2098" cy="1375.7" r="3.3"/>
<circle cx="2070.5" cy="1382" r="2.7"/>
<circle cx="2207.9" cy="1390.9" r="3.8"/>
<circle cx="2138.7" cy="1473.8" r="3"/>
<circle cx="2136.6" cy="1481.7" r="3"/>
<circle cx="2133.4" cy="1485.4" r="3"/>
<circle cx="2148" cy="1480" r="3"/>
<circle cx="2153.3" cy="1481.7" r="3"/>
<circle cx="2151.2" cy="1485.9" r="3"/>
<circle cx="2140.7" cy="1489.6" r="3"/>
<circle cx="2142.8" cy="1496.3" r="3"/>
<circle cx="2147" cy="1496.7" r="3"/>
<circle cx="2137.6" cy="1500.5" r="3"/>
<circle cx="2123" cy="1500" r="3"/>
<circle cx="2128.9" cy="1504.6" r="3"/>
<circle cx="2144.9" cy="1506.3" r="3"/>
<circle cx="2137.6" cy="1509.8" r="3"/>
<circle cx="2139.7" cy="1507.8" r="3"/>
<circle cx="2192.9" cy="1479.2" r="3"/>
<circle cx="2190.8" cy="1485.9" r="3"/>
<circle cx="2201.2" cy="1488.4" r="3"/>
<circle cx="2203.3" cy="1489.2" r="3"/>
<circle cx="2212.2" cy="1485.4" r="3"/>
<circle cx="2170.3" cy="1486.3" r="3"/>
<circle cx="2178.3" cy="1490" r="3"/>
<circle cx="2168.5" cy="1493.8" r="3"/>
<circle cx="2185.6" cy="1496.3" r="3"/>
<circle cx="2160.1" cy="1500.5" r="3"/>
<circle cx="2176.8" cy="1501.5" r="3"/>
<circle cx="2203.3" cy="1501.1" r="3"/>
<circle cx="2164.3" cy="1507.1" r="3"/>
<circle cx="2172" cy="1509.8" r="3"/>
<circle cx="2178.3" cy="1513" r="3"/>
<circle cx="2185.6" cy="1508.4" r="3"/>
<circle cx="2194.3" cy="1515.7" r="3"/>
<circle cx="2162.6" cy="1517.8" r="3"/>
<circle cx="2173.5" cy="1518.8" r="3"/>
<circle cx="2184.9" cy="1521.7" r="3"/>
<circle cx="2189.7" cy="1524.4" r="3"/>
<circle cx="2180.8" cy="1527.6" r="3"/>
<circle cx="2109.5" cy="1513.4" r="3"/>
<circle cx="2107.4" cy="1515" r="3"/>
<circle cx="2125.1" cy="1526.5" r="3"/>
<circle cx="2131.4" cy="1529.6" r="3"/>
<circle cx="2136.6" cy="1531.7" r="3"/>
<circle cx="2145.5" cy="1529.2" r="3"/>
<circle cx="2094.9" cy="1529.2" r="3"/>
<circle cx="2102.2" cy="1530.1" r="3"/>
<circle cx="2107.4" cy="1529" r="3"/>
<circle cx="2082.4" cy="1534.2" r="3"/>
<circle cx="2087.6" cy="1535.5" r="3"/>
<circle cx="2117.8" cy="1543.2" r="3"/>
<circle cx="2116.4" cy="1545.9" r="3"/>
<circle cx="2158.5" cy="1539.6" r="3"/>
<circle cx="2146" cy="1543.8" r="3"/>
<circle cx="2142.8" cy="1544.9" r="3"/>
<circle cx="2131.4" cy="1547.4" r="3"/>
<circle cx="2134.5" cy="1545.9" r="3"/>
<circle cx="2108.8" cy="1551.1" r="3"/>
<circle cx="2129.3" cy="1555.7" r="3"/>
<circle cx="2128.2" cy="1560.9" r="3"/>
<circle cx="2124.1" cy="1570.9" r="3"/>
<circle cx="2116.1" cy="1583.8" r="3"/>
<circle cx="2050.5" cy="1542.1" r="3"/>
<circle cx="2058.4" cy="1545.3" r="3"/>
<circle cx="2046.5" cy="1550.5" r="3"/>
<circle cx="2057.4" cy="1553.6" r="3"/>
<circle cx="2059.4" cy="1548.4" r="3"/>
<circle cx="2038.6" cy="1559.9" r="3"/>
<circle cx="2044.9" cy="1559.2" r="3"/>
<circle cx="2082.8" cy="1550.1" r="3"/>
<circle cx="2083.4" cy="1554.7" r="3"/>
<circle cx="2079.9" cy="1558.4" r="3"/>
<circle cx="2101.1" cy="1592.2" r="3"/>
<circle cx="2099.1" cy="1599.5" r="3"/>
<circle cx="2103.8" cy="1604.7" r="3"/>
<circle cx="2100.5" cy="1596.3" r="3"/>
<circle cx="2091.8" cy="1636.4" r="3"/>
<circle cx="2095.9" cy="1634.9" r="3"/>
</g>
</defs>
<rect width="4477" height="2000" fill="#fff"/>
<g id="map-a" transform="translate(0,0)" filter="url(#rough)">
<use href="#p-xj" fill="#006100" stroke="#006100" stroke-width="1.2"/>
<use href="#p-qh" fill="#006100" stroke="#006100" stroke-width="1.2"/>
<use href="#p-gs" fill="#006100" stroke="#006100" stroke-width="1.2"/>
<use href="#p-im" fill="#387D00" stroke="#387D00" stroke-width="1.2"/>
<use href="#p-hlj" fill="#4E8C00" stroke="#4E8C00" stroke-width="1.2"/>
<use href="#p-jl" fill="#649B00" stroke="#649B00" stroke-width="1.2"/>
<use href="#p-ln" fill="#ABCC00" stroke="#ABCC00" stroke-width="1.2"/>
<use href="#p-hb" fill="#C7DE00" stroke="#C7DE00" stroke-width="1.2"/>
<use href="#p-bj" fill="#4E8C00" stroke="#4E8C00" stroke-width="1.2"/>
<use href="#p-tj" fill="#4E8C00" stroke="#4E8C00" stroke-width="1.2"/>
<use href="#p-sx" fill="#1F6E00" stroke="#1F6E00" stroke-width="1.2"/>
<use href="#p-sa" fill="#1F6E00" stroke="#1F6E00" stroke-width="1.2"/>
<use href="#p-nx" fill="#006100" stroke="#006100" stroke-width="1.2"/>
<use href="#p-sd" fill="#FFAA00" stroke="#FFAA00" stroke-width="1.2"/>
<use href="#p-hn" fill="#7AAB00" stroke="#7AAB00" stroke-width="1.2"/>
<use href="#p-js" fill="#FF2200" stroke="#FF2200" stroke-width="1.2"/>
<use href="#p-ah" fill="#FFBF00" stroke="#FFBF00" stroke-width="1.2"/>
<use href="#p-hub" fill="#FFAA00" stroke="#FFAA00" stroke-width="1.2"/>
<use href="#p-sc" fill="#FF2200" stroke="#FF2200" stroke-width="1.2"/>
<use href="#p-cq" fill="#E4EF00" stroke="#E4EF00" stroke-width="1.2"/>
<use href="#p-gz" fill="#649B00" stroke="#649B00" stroke-width="1.2"/>
<use href="#p-yn" fill="#E4EF00" stroke="#E4EF00" stroke-width="1.2"/>
<use href="#p-gx" fill="#E4EF00" stroke="#E4EF00" stroke-width="1.2"/>
<use href="#p-hun" fill="#FFFF00" stroke="#FFFF00" stroke-width="1.2"/>
<use href="#p-jx" fill="#FFD500" stroke="#FFD500" stroke-width="1.2"/>
<use href="#p-zj" fill="#FF2200" stroke="#FF2200" stroke-width="1.2"/>
<use href="#p-fj" fill="#FF5500" stroke="#FF5500" stroke-width="1.2"/>
<use href="#p-gd" fill="#FF2200" stroke="#FF2200" stroke-width="1.2"/>
<use href="#p-hi" fill="#4E8C00" stroke="#4E8C00" stroke-width="1.2"/>
<use href="#p-sh" fill="#FFAA00" stroke="#FFAA00" stroke-width="1.2"/>
<use href="#p-tib" fill="#FFFFFF" stroke="#FFFFFF" stroke-width="1.2"/>
<use href="#p-tw" fill="#FFFFFF" stroke="#FFFFFF" stroke-width="1.2"/>
<use href="#grey"/><use href="#thick"/><use href="#dots"/>
</g>
<use href="#ndash" transform="translate(0,0)"/>
<g id="inset-a" transform="translate(0,0)">
<rect x="1959.2" y="1221.4" width="307.7" height="447.2" fill="#fff"/>
<clipPath id="clip-a"><rect x="1959.2" y="1221.4" width="307.7" height="447.2"/></clipPath>
<g clip-path="url(#clip-a)"><g transform="translate(0,0)">
<path d="M1958.3 1216.3 2069.9 1216.3 2073 1228.8 2062.6 1235 2056.3 1243.4 2050.1 1249.6 2041.7 1254.8 2033.4 1256.9 2027.1 1259 2014.6 1251.7 2004.2 1257.9 1991.7 1256.9 1981.3 1249.6 1977.1 1241.3 1980.2 1232.9 1972.9 1229.8 1958.3 1228.3Z" fill="#E4EF00"/>
<path d="M2070.9 1216.3 2177.2 1216.3 2175.1 1225 2158.5 1229.8 2150.1 1230.8 2137.6 1235 2127.2 1247.5 2112.6 1245.4 2104.3 1251.7 2091.8 1254.8 2075.1 1257.9 2062.6 1262.1 2052.1 1264.2 2048 1270.5 2044.9 1276.7 2050.1 1283 2041.7 1272.5 2041.7 1264.2 2045.9 1255.9 2054.2 1245.4 2060.5 1237.1 2073 1229.8Z" fill="#FF2200"/>
<path d="M2039.6 1292.3 2050.1 1290.3 2060.5 1292.3 2065.7 1297.6 2062.6 1305.9 2056.3 1318.4 2045.9 1325.7 2035.5 1328.8 2023 1325.7 2017.8 1320.5 2017.8 1308 2025 1300.7 2033.4 1294.4Z" fill="#4E8C00" stroke="#000" stroke-width="6" stroke-linejoin="round"/>
</g><use href="#inset-lines"/><use href="#inset-dots"/></g>
<rect x="1959.2" y="1221.4" width="307.7" height="447.2" fill="none" stroke="#000" stroke-width="8"/>
</g>
<g id="bars-a">
<path class="ld" d="M1528 695.7 1798 850"/>
<path class="ld" d="M1580 714 1873 748"/>
<path class="ld" d="M1954 851 1763 1065"/>
<path class="ld" d="M1725 1156.5 1868.7 1156.5"/>
<rect class="bar" x="465.6" y="536" width="38.5" height="19.4"/>
<line class="bl" x1="454.3" y1="556.4" x2="515.3" y2="556.4"/>
<rect class="bar" x="1862.5" y="266" width="38.5" height="57"/>
<line class="bl" x1="1851.2" y1="324" x2="1912.2" y2="324"/>
<rect class="bar" x="1824.8" y="405" width="38.5" height="76.7"/>
<line class="bl" x1="1813.5" y1="482.7" x2="1874.5" y2="482.7"/>
<rect class="bar" x="801.6" y="829" width="38.5" height="21"/>
<line class="bl" x1="790.4" y1="851" x2="851.4" y2="851"/>
<rect class="bar" x="1090.5" y="852.4" width="38.5" height="19.3"/>
<line class="bl" x1="1079.3" y1="872.7" x2="1140.3" y2="872.7"/>
<rect class="bar" x="1392.8" y="552.6" width="38.5" height="46.4"/>
<line class="bl" x1="1381.5" y1="600" x2="1442.5" y2="600"/>
<rect class="bar" x="1161.8" y="796.5" width="38.5" height="23.5"/>
<line class="bl" x1="1150.5" y1="821" x2="1211.5" y2="821"/>
<rect class="bar" x="1387.5" y="775" width="38.5" height="32.8"/>
<line class="bl" x1="1376.2" y1="808.8" x2="1437.2" y2="808.8"/>
<rect class="bar" x="1487.8" y="725.7" width="38.5" height="69.3"/>
<line class="bl" x1="1476.5" y1="796" x2="1537.5" y2="796"/>
<rect class="bar" x="1580.8" y="789" width="38.5" height="82"/>
<line class="bl" x1="1569.5" y1="872" x2="1630.5" y2="872"/>
<rect class="bar" x="1757.8" y="521.7" width="38.5" height="75.3"/>
<line class="bl" x1="1746.5" y1="598" x2="1807.5" y2="598"/>
<rect class="bar" x="1033.8" y="1018.7" width="38.5" height="147.3"/>
<line class="bl" x1="1022.5" y1="1167" x2="1083.5" y2="1167"/>
<rect class="bar" x="1217.8" y="1038.7" width="38.5" height="126.1"/>
<line class="bl" x1="1206.5" y1="1165.8" x2="1267.5" y2="1165.8"/>
<rect class="bar" x="1264.2" y="933.5" width="38.5" height="31.3"/>
<line class="bl" x1="1253" y1="965.8" x2="1314" y2="965.8"/>
<rect class="bar" x="1434.8" y="943" width="38.5" height="31"/>
<line class="bl" x1="1423.5" y1="975" x2="1484.5" y2="975"/>
<rect class="bar" x="1391.8" y="992" width="38.5" height="121.5"/>
<line class="bl" x1="1380.5" y1="1114.5" x2="1441.5" y2="1114.5"/>
<rect class="bar" x="1580.8" y="957.4" width="38.5" height="104.3"/>
<line class="bl" x1="1569.5" y1="1062.7" x2="1630.5" y2="1062.7"/>
<rect class="bar" x="1683.8" y="889" width="38.5" height="115.8"/>
<line class="bl" x1="1672.5" y1="1005.8" x2="1733.5" y2="1005.8"/>
<rect class="bar" x="1642.8" y="1029" width="38.5" height="315"/>
<line class="bl" x1="1631.5" y1="1345" x2="1692.5" y2="1345"/>
<rect class="bar" x="1530.8" y="1126" width="38.5" height="151.8"/>
<line class="bl" x1="1519.5" y1="1278.8" x2="1580.5" y2="1278.8"/>
<rect class="bar" x="1384.8" y="1210" width="38.5" height="68.7"/>
<line class="bl" x1="1373.5" y1="1279.7" x2="1434.5" y2="1279.7"/>
<rect class="bar" x="1194.5" y="1220" width="38.5" height="67"/>
<line class="bl" x1="1183.2" y1="1288" x2="1244.2" y2="1288"/>
<rect class="bar" x="1449.2" y="1247" width="38.5" height="203"/>
<line class="bl" x1="1438" y1="1451" x2="1499" y2="1451"/>
<rect class="bar" x="927.8" y="1269" width="38.5" height="118"/>
<line class="bl" x1="916.5" y1="1388" x2="977.5" y2="1388"/>
<rect class="bar" x="1283.8" y="1332.6" width="38.5" height="116.1"/>
<line class="bl" x1="1272.5" y1="1449.7" x2="1333.5" y2="1449.7"/>
<rect class="bar" x="1343.2" y="1429.6" width="38.5" height="202.1"/>
<line class="bl" x1="1331.9" y1="1632.7" x2="1392.9" y2="1632.7"/>
<rect class="bar" x="1872.8" y="1011.7" width="38.5" height="263.3"/>
<line class="bl" x1="1861.5" y1="1276" x2="1922.5" y2="1276"/>
<rect class="bar" x="1807.8" y="754.3" width="38.5" height="95.7"/>
<line class="bl" x1="1796.5" y1="851" x2="1857.5" y2="851"/>
<rect class="bar" x="1873.8" y="709.6" width="38.5" height="140.4"/>
<line class="bl" x1="1862.5" y1="851" x2="1923.5" y2="851"/>
<rect class="bar" x="1941.8" y="599.6" width="38.5" height="250.4"/>
<line class="bl" x1="1930.5" y1="851" x2="1991.5" y2="851"/>
</g>
<g id="map-b" transform="translate(2167,-2)" filter="url(#rough)">
<use href="#p-xj" fill="#006100" stroke="#006100" stroke-width="1.2"/>
<use href="#p-qh" fill="#006100" stroke="#006100" stroke-width="1.2"/>
<use href="#p-gs" fill="#006100" stroke="#006100" stroke-width="1.2"/>
<use href="#p-im" fill="#1F6E00" stroke="#1F6E00" stroke-width="1.2"/>
<use href="#p-hlj" fill="#387D00" stroke="#387D00" stroke-width="1.2"/>
<use href="#p-jl" fill="#387D00" stroke="#387D00" stroke-width="1.2"/>
<use href="#p-ln" fill="#649B00" stroke="#649B00" stroke-width="1.2"/>
<use href="#p-hb" fill="#95BD00" stroke="#95BD00" stroke-width="1.2"/>
<use href="#p-bj" fill="#387D00" stroke="#387D00" stroke-width="1.2"/>
<use href="#p-tj" fill="#387D00" stroke="#387D00" stroke-width="1.2"/>
<use href="#p-sx" fill="#1F6E00" stroke="#1F6E00" stroke-width="1.2"/>
<use href="#p-sa" fill="#1F6E00" stroke="#1F6E00" stroke-width="1.2"/>
<use href="#p-nx" fill="#006100" stroke="#006100" stroke-width="1.2"/>
<use href="#p-sd" fill="#E4EF00" stroke="#E4EF00" stroke-width="1.2"/>
<use href="#p-hn" fill="#4E8C00" stroke="#4E8C00" stroke-width="1.2"/>
<use href="#p-js" fill="#FFAA00" stroke="#FFAA00" stroke-width="1.2"/>
<use href="#p-ah" fill="#E4EF00" stroke="#E4EF00" stroke-width="1.2"/>
<use href="#p-hub" fill="#E4EF00" stroke="#E4EF00" stroke-width="1.2"/>
<use href="#p-sc" fill="#FF6A00" stroke="#FF6A00" stroke-width="1.2"/>
<use href="#p-cq" fill="#95BD00" stroke="#95BD00" stroke-width="1.2"/>
<use href="#p-gz" fill="#387D00" stroke="#387D00" stroke-width="1.2"/>
<use href="#p-yn" fill="#7AAB00" stroke="#7AAB00" stroke-width="1.2"/>
<use href="#p-gx" fill="#7AAB00" stroke="#7AAB00" stroke-width="1.2"/>
<use href="#p-hun" fill="#ABCC00" stroke="#ABCC00" stroke-width="1.2"/>
<use href="#p-jx" fill="#C7DE00" stroke="#C7DE00" stroke-width="1.2"/>
<use href="#p-zj" fill="#FF6A00" stroke="#FF6A00" stroke-width="1.2"/>
<use href="#p-fj" fill="#E4EF00" stroke="#E4EF00" stroke-width="1.2"/>
<use href="#p-gd" fill="#FF6A00" stroke="#FF6A00" stroke-width="1.2"/>
<use href="#p-hi" fill="#1F6E00" stroke="#1F6E00" stroke-width="1.2"/>
<use href="#p-sh" fill="#E4EF00" stroke="#E4EF00" stroke-width="1.2"/>
<use href="#p-tib" fill="#FFFFFF" stroke="#FFFFFF" stroke-width="1.2"/>
<use href="#p-tw" fill="#FFFFFF" stroke="#FFFFFF" stroke-width="1.2"/>
<use href="#grey"/><use href="#thick"/><use href="#dots"/>
</g>
<use href="#ndash" transform="translate(2167,-2)"/>
<g id="inset-b" transform="translate(2166,1)">
<rect x="1959.2" y="1221.4" width="307.7" height="447.2" fill="#fff"/>
<clipPath id="clip-b"><rect x="1959.2" y="1221.4" width="307.7" height="447.2"/></clipPath>
<g clip-path="url(#clip-b)"><g transform="translate(0.5,4)">
<path d="M1958.3 1216.3 2069.9 1216.3 2073 1228.8 2062.6 1235 2056.3 1243.4 2050.1 1249.6 2041.7 1254.8 2033.4 1256.9 2027.1 1259 2014.6 1251.7 2004.2 1257.9 1991.7 1256.9 1981.3 1249.6 1977.1 1241.3 1980.2 1232.9 1972.9 1229.8 1958.3 1228.3Z" fill="#7AAB00"/>
<path d="M2070.9 1216.3 2177.2 1216.3 2175.1 1225 2158.5 1229.8 2150.1 1230.8 2137.6 1235 2127.2 1247.5 2112.6 1245.4 2104.3 1251.7 2091.8 1254.8 2075.1 1257.9 2062.6 1262.1 2052.1 1264.2 2048 1270.5 2044.9 1276.7 2050.1 1283 2041.7 1272.5 2041.7 1264.2 2045.9 1255.9 2054.2 1245.4 2060.5 1237.1 2073 1229.8Z" fill="#FF6A00"/>
<path d="M2039.6 1292.3 2050.1 1290.3 2060.5 1292.3 2065.7 1297.6 2062.6 1305.9 2056.3 1318.4 2045.9 1325.7 2035.5 1328.8 2023 1325.7 2017.8 1320.5 2017.8 1308 2025 1300.7 2033.4 1294.4Z" fill="#1F6E00" stroke="#000" stroke-width="6" stroke-linejoin="round"/>
</g><use href="#inset-lines"/><use href="#inset-dots"/></g>
<rect x="1959.2" y="1221.4" width="307.7" height="447.2" fill="none" stroke="#000" stroke-width="8"/>
</g>
<g id="bars-b">
<path class="ld" d="M3700.9 693.7 3975.7 834"/>
<path class="ld" d="M3745.3 703.7 4056 766.7"/>
<path class="ld" d="M4143 836 3932 1064"/>
<path class="ld" d="M3888.7 1167 4037.9 1167"/>
<rect class="bar" x="2629.1" y="549.7" width="38.5" height="9.2"/>
<line class="bl" x1="2617.8" y1="559.9" x2="2678.8" y2="559.9"/>
<rect class="bar" x="2976.1" y="835.4" width="38.5" height="12.2"/>
<line class="bl" x1="2964.8" y1="848.6" x2="3025.8" y2="848.6"/>
<rect class="bar" x="3262.9" y="858.9" width="38.5" height="12.8"/>
<line class="bl" x1="3251.7" y1="872.7" x2="3312.7" y2="872.7"/>
<rect class="bar" x="3558.2" y="571.5" width="38.5" height="22.2"/>
<line class="bl" x1="3546.9" y1="594.7" x2="3607.9" y2="594.7"/>
<rect class="bar" x="3332.1" y="801" width="38.5" height="15.7"/>
<line class="bl" x1="3320.8" y1="817.7" x2="3381.8" y2="817.7"/>
<rect class="bar" x="3552.3" y="783.7" width="38.5" height="21.7"/>
<line class="bl" x1="3541.1" y1="806.4" x2="3602.1" y2="806.4"/>
<rect class="bar" x="3654.8" y="748.4" width="38.5" height="49.6"/>
<line class="bl" x1="3643.5" y1="799" x2="3704.5" y2="799"/>
<rect class="bar" x="3749.4" y="809.7" width="38.5" height="50.9"/>
<line class="bl" x1="3738.2" y1="861.6" x2="3799.2" y2="861.6"/>
<rect class="bar" x="3920.6" y="560.6" width="38.5" height="42.6"/>
<line class="bl" x1="3909.3" y1="604.2" x2="3970.3" y2="604.2"/>
<rect class="bar" x="4026.4" y="290.4" width="38.5" height="31.3"/>
<line class="bl" x1="4015.2" y1="322.7" x2="4076.2" y2="322.7"/>
<rect class="bar" x="4000.8" y="435.2" width="38.5" height="45.7"/>
<line class="bl" x1="3989.5" y1="481.9" x2="4050.5" y2="481.9"/>
<rect class="bar" x="3422.3" y="957.6" width="38.5" height="19.1"/>
<line class="bl" x1="3411.1" y1="977.7" x2="3472.1" y2="977.7"/>
<rect class="bar" x="3604.8" y="948.4" width="38.5" height="22.6"/>
<line class="bl" x1="3593.5" y1="972" x2="3654.5" y2="972"/>
<rect class="bar" x="3198.8" y="1078.4" width="38.5" height="84.4"/>
<line class="bl" x1="3187.5" y1="1163.8" x2="3248.5" y2="1163.8"/>
<rect class="bar" x="3381.7" y="1077" width="38.5" height="82.7"/>
<line class="bl" x1="3370.4" y1="1160.7" x2="3431.4" y2="1160.7"/>
<rect class="bar" x="3571.1" y="1022.3" width="38.5" height="83.5"/>
<line class="bl" x1="3559.8" y1="1106.8" x2="3620.8" y2="1106.8"/>
<rect class="bar" x="3747.3" y="985.8" width="38.5" height="71.2"/>
<line class="bl" x1="3736.1" y1="1058" x2="3797.1" y2="1058"/>
<rect class="bar" x="3851.4" y="924" width="38.5" height="79.7"/>
<line class="bl" x1="3840.2" y1="1004.7" x2="3901.2" y2="1004.7"/>
<rect class="bar" x="3363.8" y="1244" width="38.5" height="48"/>
<line class="bl" x1="3352.5" y1="1293" x2="3413.5" y2="1293"/>
<rect class="bar" x="3560.3" y="1237" width="38.5" height="46.7"/>
<line class="bl" x1="3549.1" y1="1284.7" x2="3610.1" y2="1284.7"/>
<rect class="bar" x="3692.9" y="1187.6" width="38.5" height="95.2"/>
<line class="bl" x1="3681.7" y1="1283.8" x2="3742.7" y2="1283.8"/>
<rect class="bar" x="3810.2" y="1174" width="38.5" height="159.7"/>
<line class="bl" x1="3798.9" y1="1334.7" x2="3859.9" y2="1334.7"/>
<rect class="bar" x="4041.7" y="1116.7" width="38.5" height="149.1"/>
<line class="bl" x1="4030.4" y1="1266.8" x2="4091.4" y2="1266.8"/>
<rect class="bar" x="3614.8" y="1332.8" width="38.5" height="110.9"/>
<line class="bl" x1="3603.5" y1="1444.7" x2="3664.5" y2="1444.7"/>
<rect class="bar" x="3095.3" y="1321.5" width="38.5" height="64.8"/>
<line class="bl" x1="3084.1" y1="1387.3" x2="3145.1" y2="1387.3"/>
<rect class="bar" x="3446.1" y="1377" width="38.5" height="68.4"/>
<line class="bl" x1="3434.8" y1="1446.4" x2="3495.8" y2="1446.4"/>
<rect class="bar" x="3508.2" y="1548.9" width="38.5" height="81.3"/>
<line class="bl" x1="3496.9" y1="1631.2" x2="3557.9" y2="1631.2"/>
<rect class="bar" x="3985.6" y="774.5" width="38.5" height="59.5"/>
<line class="bl" x1="3974.3" y1="835" x2="4035.3" y2="835"/>
<rect class="bar" x="4056.1" y="752.8" width="38.5" height="81.2"/>
<line class="bl" x1="4044.8" y1="835" x2="4105.8" y2="835"/>
<rect class="bar" x="4127.8" y="678.4" width="38.5" height="155.6"/>
<line class="bl" x1="4116.5" y1="835" x2="4177.5" y2="835"/>
<rect class="bar" x="3155.3" y="1562.3" width="38.3" height="9.6"/>
</g>
<g id="legend-bar">
<path d="M435.7 1557.4V1876.1" stroke="#000" stroke-width="2.6" fill="none"/>
<path d="M417.4 1557.4H435.7" stroke="#000" stroke-width="2.6"/>
<path d="M424 1597.1H435.7" stroke="#000" stroke-width="2.6"/>
<path d="M417.4 1636.8H435.7" stroke="#000" stroke-width="2.6"/>
<path d="M424 1676.7H435.7" stroke="#000" stroke-width="2.6"/>
<path d="M417.4 1716.5H435.7" stroke="#000" stroke-width="2.6"/>
<path d="M424 1756.4H435.7" stroke="#000" stroke-width="2.6"/>
<path d="M417.4 1796.3H435.7" stroke="#000" stroke-width="2.6"/>
<path d="M424 1836.2H435.7" stroke="#000" stroke-width="2.6"/>
<path d="M417.4 1876.1H435.7" stroke="#000" stroke-width="2.6"/>
<text class="lb" x="405.2" y="1575.5" text-anchor="end">0.4</text>
<text class="lb" x="405.2" y="1654" text-anchor="end">0.3</text>
<text class="lb" x="405.2" y="1732.5" text-anchor="end">0.2</text>
<text class="lb" x="405.2" y="1810.2" text-anchor="end">0.1</text>
<text class="lb" x="405.2" y="1892.1" text-anchor="end">0</text>
<rect class="bar" x="450" y="1562.2" width="38.3" height="315.2"/>
<text class="lb" x="342" y="1967.4">Points of per-foetus IQ decrements</text>
</g>
<g id="legend-ramp">
<rect x="1330.3" y="1791.3" width="67.5" height="57" fill="#fff" stroke="#777" stroke-width="2"/>
<rect x="1476.1" y="1790.3" width="68.5" height="59" fill="#006100"/>
<rect x="1544.3" y="1790.3" width="68.5" height="59" fill="#1F6E00"/>
<rect x="1612.5" y="1790.3" width="68.5" height="59" fill="#387D00"/>
<rect x="1680.7" y="1790.3" width="68.5" height="59" fill="#4E8C00"/>
<rect x="1748.9" y="1790.3" width="68.5" height="59" fill="#649B00"/>
<rect x="1817" y="1790.3" width="68.5" height="59" fill="#7AAB00"/>
<rect x="1885.2" y="1790.3" width="68.5" height="59" fill="#95BD00"/>
<rect x="1953.4" y="1790.3" width="68.5" height="59" fill="#ABCC00"/>
<rect x="2021.6" y="1790.3" width="68.5" height="59" fill="#C7DE00"/>
<rect x="2089.8" y="1790.3" width="68.5" height="59" fill="#E4EF00"/>
<rect x="2158" y="1790.3" width="68.5" height="59" fill="#FFFF00"/>
<rect x="2226.2" y="1790.3" width="68.5" height="59" fill="#FFEA00"/>
<rect x="2294.4" y="1790.3" width="68.5" height="59" fill="#FFD500"/>
<rect x="2362.6" y="1790.3" width="68.5" height="59" fill="#FFBF00"/>
<rect x="2430.8" y="1790.3" width="68.5" height="59" fill="#FFAA00"/>
<rect x="2498.9" y="1790.3" width="68.5" height="59" fill="#FF9500"/>
<rect x="2567.1" y="1790.3" width="68.5" height="59" fill="#FF8000"/>
<rect x="2635.3" y="1790.3" width="68.5" height="59" fill="#FF6A00"/>
<rect x="2703.5" y="1790.3" width="68.5" height="59" fill="#FF5500"/>
<rect x="2771.7" y="1790.3" width="68.5" height="59" fill="#FF3C00"/>
<rect x="2839.9" y="1790.3" width="68.5" height="59" fill="#FF2200"/>
<g stroke="#666" stroke-width="2" fill="none">
<path d="M1544.3 1790.3V1849.3"/>
<path d="M1612.5 1790.3V1849.3"/>
<path d="M1680.7 1790.3V1849.3"/>
<path d="M1748.9 1790.3V1849.3"/>
<path d="M1817 1790.3V1849.3"/>
<path d="M1885.2 1790.3V1849.3"/>
<path d="M1953.4 1790.3V1849.3"/>
<path d="M2021.6 1790.3V1849.3"/>
<path d="M2089.8 1790.3V1849.3"/>
<path d="M2158 1790.3V1849.3"/>
<path d="M2226.2 1790.3V1849.3"/>
<path d="M2294.4 1790.3V1849.3"/>
<path d="M2362.6 1790.3V1849.3"/>
<path d="M2430.8 1790.3V1849.3"/>
<path d="M2498.9 1790.3V1849.3"/>
<path d="M2567.1 1790.3V1849.3"/>
<path d="M2635.3 1790.3V1849.3"/>
<path d="M2703.5 1790.3V1849.3"/>
<path d="M2771.7 1790.3V1849.3"/>
<path d="M2839.9 1790.3V1849.3"/>
<rect x="1476.1" y="1790.3" width="1432" height="59"/>
</g>
<text class="lb" x="1284.5" y="1897.5">No data</text>
<text class="lb" x="1476" y="1898.6" text-anchor="middle">0</text>
<text class="lb" x="1612" y="1902" text-anchor="middle">50</text>
<text class="lb" x="1748" y="1902" text-anchor="middle">100</text>
<text class="lb" x="1884" y="1902" text-anchor="middle">150</text>
<text class="lb" x="2021" y="1899" text-anchor="middle">200</text>
<text class="lb" x="2161" y="1899" text-anchor="middle">250</text>
<text class="lb" x="2295" y="1899" text-anchor="middle">300</text>
<text class="lb" x="2430" y="1899" text-anchor="middle">350</text>
<text class="lb" x="2566" y="1899" text-anchor="middle">400</text>
<text class="lb" x="2703" y="1899" text-anchor="middle">450</text>
<text class="lb" x="2835" y="1894.5" text-anchor="middle">&gt;500</text>
<text class="lb" x="1829" y="1970.3">Deaths from fatal heart attacks</text>
</g>
<text class="t" x="57.5" y="194.5">a<tspan dx="4">)</tspan></text><text class="t" x="2233" y="194.5">b<tspan dx="4">)</tspan></text>
</svg></body></html>
